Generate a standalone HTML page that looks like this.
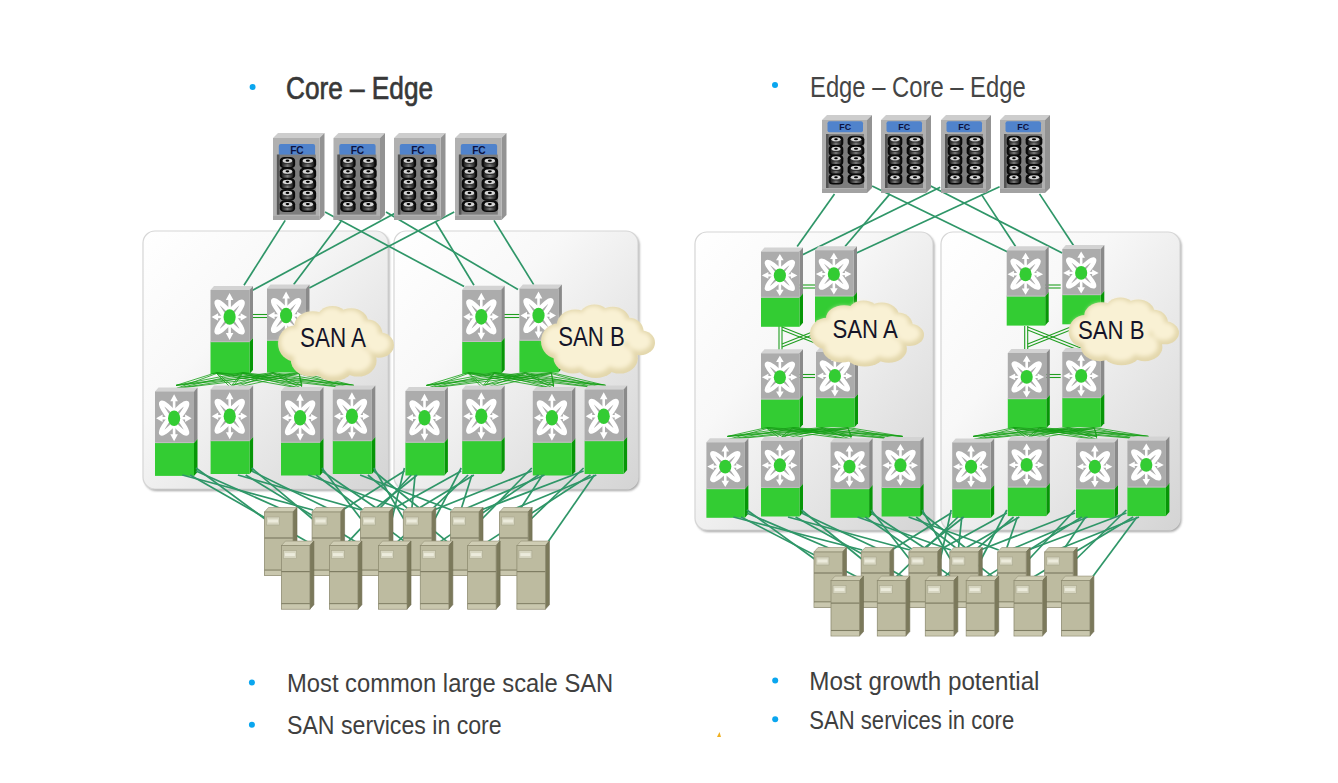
<!DOCTYPE html><html><head><meta charset="utf-8"><style>html,body{margin:0;padding:0;background:#fff;}svg{display:block}</style></head><body>
<svg width="1338" height="783" viewBox="0 0 1338 783">
<defs>
<linearGradient id="pg" x1="0" y1="0" x2="1" y2="1">
<stop offset="0" stop-color="#ffffff"/><stop offset="0.35" stop-color="#f8f8f8"/><stop offset="1" stop-color="#d4d4d4"/></linearGradient>
<radialGradient id="cg" cx="0.42" cy="0.38" r="0.65">
<stop offset="0" stop-color="#fbf6df"/><stop offset="0.6" stop-color="#f3ebcb"/><stop offset="1" stop-color="#ddd1a4"/></radialGradient>
<filter id="blur2" x="-10%" y="-10%" width="120%" height="120%"><feGaussianBlur stdDeviation="1.0"/></filter>
<filter id="blur3" x="-20%" y="-20%" width="140%" height="140%"><feGaussianBlur stdDeviation="2.2"/></filter>
<g id="star">
<ellipse cx="0" cy="0" rx="3.6" ry="19.8" transform="rotate(40)" fill="none" stroke="#fff" stroke-width="4.5"/>
<ellipse cx="0" cy="0" rx="3.6" ry="19.8" transform="rotate(-40)" fill="none" stroke="#fff" stroke-width="4.5"/>
<path d="M0,-18 V18 M-13,0 H13" stroke="#fff" stroke-width="2.6"/>
<path d="M0,-24 L-3.8,-17 L3.8,-17 Z M0,23 L-3.8,16 L3.8,16 Z M-18,0 L-11.5,-3.8 L-11.5,3.8 Z M17.5,0 L11,-3.8 L11,3.8 Z" fill="#fff"/>
<ellipse cx="0" cy="0" rx="6.1" ry="7.8" fill="#33cc33"/>
</g>
<g id="drive">
<rect x="-0.3" y="-0.2" width="14.6" height="10.6" rx="4.5" ry="3.5" fill="#0a0a0a"/>
<rect x="1.5" y="3" width="11" height="6" rx="2" fill="url(#dg)"/>
<rect x="3" y="5.6" width="8" height="0.9" fill="#2a2a2a"/>
<ellipse cx="7" cy="3.3" rx="4.6" ry="2.0" fill="#d4d4d4"/>
<ellipse cx="7" cy="3.2" rx="1.8" ry="1.0" fill="#000"/>
</g>
<linearGradient id="dg" x1="0" y1="0" x2="1" y2="0"><stop offset="0" stop-color="#1a1a1a"/><stop offset="0.5" stop-color="#7a7a7a"/><stop offset="1" stop-color="#1a1a1a"/></linearGradient>
</defs>
<circle cx="252.6" cy="87" r="3.0" fill="#0aa6ef"/>
<text x="286" y="98.5" font-family="Liberation Sans" font-size="32" font-weight="normal" fill="#383838" stroke="#383838" stroke-width="0.7" textLength="147" lengthAdjust="spacingAndGlyphs">Core – Edge</text>
<circle cx="775" cy="85.1" r="3.0" fill="#0aa6ef"/>
<text x="810" y="97.2" font-family="Liberation Sans" font-size="30" font-weight="normal" fill="#454545"  textLength="215.70000000000005" lengthAdjust="spacingAndGlyphs">Edge – Core – Edge</text>
<circle cx="251.9" cy="682.4" r="3.0" fill="#0aa6ef"/>
<text x="287" y="692" font-family="Liberation Sans" font-size="25" font-weight="normal" fill="#3f3f3f"  textLength="326.29999999999995" lengthAdjust="spacingAndGlyphs">Most common large scale SAN</text>
<circle cx="251.9" cy="724.7" r="3.0" fill="#0aa6ef"/>
<text x="287" y="734.3" font-family="Liberation Sans" font-size="25" font-weight="normal" fill="#3f3f3f"  textLength="214.7" lengthAdjust="spacingAndGlyphs">SAN services in core</text>
<circle cx="775.2" cy="680.4" r="3.0" fill="#0aa6ef"/>
<text x="809.3" y="690" font-family="Liberation Sans" font-size="25" font-weight="normal" fill="#3f3f3f"  textLength="230.20000000000005" lengthAdjust="spacingAndGlyphs">Most growth potential</text>
<circle cx="775.2" cy="719.2" r="3.0" fill="#0aa6ef"/>
<text x="809.3" y="729" font-family="Liberation Sans" font-size="25" font-weight="normal" fill="#3f3f3f"  textLength="204.9000000000001" lengthAdjust="spacingAndGlyphs">SAN services in core</text>
<polygon points="717,737 719.5,732 721,737" fill="#f0b020"/>
<rect x="144.5" y="233" width="245" height="258" rx="12" fill="#8a8a8a" opacity="0.75" filter="url(#blur2)"/><rect x="143" y="231" width="245" height="258" rx="12" fill="url(#pg)" stroke="#d6d6d6" stroke-width="1.2"/>
<rect x="395.5" y="233" width="244" height="258" rx="12" fill="#8a8a8a" opacity="0.75" filter="url(#blur2)"/><rect x="394" y="231" width="244" height="258" rx="12" fill="url(#pg)" stroke="#d6d6d6" stroke-width="1.2"/>
<line x1="285.2" y1="220.4" x2="244.0" y2="285.2" stroke="#2f9668" stroke-width="1.7"/>
<line x1="341.2" y1="221.3" x2="293.7" y2="284.6" stroke="#2f9668" stroke-width="1.7"/>
<line x1="325.0" y1="212.0" x2="464.1" y2="286.6" stroke="#2f9668" stroke-width="1.7"/>
<line x1="386.0" y1="212.0" x2="518.0" y2="289.5" stroke="#2f9668" stroke-width="1.7"/>
<line x1="394.5" y1="213.6" x2="252.5" y2="290.3" stroke="#2f9668" stroke-width="1.7"/>
<line x1="454.2" y1="212.0" x2="309.3" y2="288.0" stroke="#2f9668" stroke-width="1.7"/>
<line x1="435.2" y1="221.3" x2="474.0" y2="285.2" stroke="#2f9668" stroke-width="1.7"/>
<line x1="494.0" y1="220.4" x2="533.7" y2="284.6" stroke="#2f9668" stroke-width="1.7"/>
<polygon points="273,138 278,133 324.5,133 319.5,138" fill="#cdcdcd"/>
<polygon points="319.5,138 324.5,133 324.5,215 319.5,220" fill="#939393"/>
<rect x="273" y="138" width="46.5" height="82" fill="#b0b0b0"/>
<rect x="273" y="216" width="46.5" height="4" fill="#a2a2a2"/>
<rect x="278.8" y="144.1" width="36.300000000000004" height="12.4" rx="2" fill="#5083cc"/>
<text x="296.95" y="153.9" text-anchor="middle" font-family="Liberation Sans" font-weight="bold" font-size="10.2" fill="#0c1240">FC</text>
<rect x="276.9" y="154.6" width="38.9" height="59.99999999999999" fill="#7d7d7d"/>
<rect x="276.9" y="154.6" width="2.5" height="59.99999999999999" fill="#555"/>
<use href="#drive" transform="translate(280.1,157.2) scale(1.050,1.080)"/>
<use href="#drive" transform="translate(280.1,167.8) scale(1.050,1.100)"/>
<use href="#drive" transform="translate(280.1,178.4) scale(1.050,1.080)"/>
<use href="#drive" transform="translate(280.1,189.4) scale(1.050,1.100)"/>
<use href="#drive" transform="translate(280.1,200.6) scale(1.050,1.100)"/>
<use href="#drive" transform="translate(299.9,157.2) scale(1.136,1.080)"/>
<use href="#drive" transform="translate(299.9,167.8) scale(1.136,1.100)"/>
<use href="#drive" transform="translate(299.9,178.4) scale(1.136,1.080)"/>
<use href="#drive" transform="translate(299.9,189.4) scale(1.136,1.100)"/>
<use href="#drive" transform="translate(299.9,200.6) scale(1.136,1.100)"/>
<polygon points="333.5,138 338.5,133 385.0,133 380.0,138" fill="#cdcdcd"/>
<polygon points="380.0,138 385.0,133 385.0,215 380.0,220" fill="#939393"/>
<rect x="333.5" y="138" width="46.5" height="82" fill="#b0b0b0"/>
<rect x="333.5" y="216" width="46.5" height="4" fill="#a2a2a2"/>
<rect x="339.3" y="144.1" width="36.300000000000004" height="12.4" rx="2" fill="#5083cc"/>
<text x="357.45" y="153.9" text-anchor="middle" font-family="Liberation Sans" font-weight="bold" font-size="10.2" fill="#0c1240">FC</text>
<rect x="337.4" y="154.6" width="38.9" height="59.99999999999999" fill="#7d7d7d"/>
<rect x="337.4" y="154.6" width="2.5" height="59.99999999999999" fill="#555"/>
<use href="#drive" transform="translate(340.6,157.2) scale(1.050,1.080)"/>
<use href="#drive" transform="translate(340.6,167.8) scale(1.050,1.100)"/>
<use href="#drive" transform="translate(340.6,178.4) scale(1.050,1.080)"/>
<use href="#drive" transform="translate(340.6,189.4) scale(1.050,1.100)"/>
<use href="#drive" transform="translate(340.6,200.6) scale(1.050,1.100)"/>
<use href="#drive" transform="translate(360.4,157.2) scale(1.136,1.080)"/>
<use href="#drive" transform="translate(360.4,167.8) scale(1.136,1.100)"/>
<use href="#drive" transform="translate(360.4,178.4) scale(1.136,1.080)"/>
<use href="#drive" transform="translate(360.4,189.4) scale(1.136,1.100)"/>
<use href="#drive" transform="translate(360.4,200.6) scale(1.136,1.100)"/>
<polygon points="394,138 399,133 445.5,133 440.5,138" fill="#cdcdcd"/>
<polygon points="440.5,138 445.5,133 445.5,215 440.5,220" fill="#939393"/>
<rect x="394" y="138" width="46.5" height="82" fill="#b0b0b0"/>
<rect x="394" y="216" width="46.5" height="4" fill="#a2a2a2"/>
<rect x="399.8" y="144.1" width="36.300000000000004" height="12.4" rx="2" fill="#5083cc"/>
<text x="417.95" y="153.9" text-anchor="middle" font-family="Liberation Sans" font-weight="bold" font-size="10.2" fill="#0c1240">FC</text>
<rect x="397.9" y="154.6" width="38.9" height="59.99999999999999" fill="#7d7d7d"/>
<rect x="397.9" y="154.6" width="2.5" height="59.99999999999999" fill="#555"/>
<use href="#drive" transform="translate(401.1,157.2) scale(1.050,1.080)"/>
<use href="#drive" transform="translate(401.1,167.8) scale(1.050,1.100)"/>
<use href="#drive" transform="translate(401.1,178.4) scale(1.050,1.080)"/>
<use href="#drive" transform="translate(401.1,189.4) scale(1.050,1.100)"/>
<use href="#drive" transform="translate(401.1,200.6) scale(1.050,1.100)"/>
<use href="#drive" transform="translate(420.9,157.2) scale(1.136,1.080)"/>
<use href="#drive" transform="translate(420.9,167.8) scale(1.136,1.100)"/>
<use href="#drive" transform="translate(420.9,178.4) scale(1.136,1.080)"/>
<use href="#drive" transform="translate(420.9,189.4) scale(1.136,1.100)"/>
<use href="#drive" transform="translate(420.9,200.6) scale(1.136,1.100)"/>
<polygon points="455,138 460,133 506.5,133 501.5,138" fill="#cdcdcd"/>
<polygon points="501.5,138 506.5,133 506.5,215 501.5,220" fill="#939393"/>
<rect x="455" y="138" width="46.5" height="82" fill="#b0b0b0"/>
<rect x="455" y="216" width="46.5" height="4" fill="#a2a2a2"/>
<rect x="460.8" y="144.1" width="36.300000000000004" height="12.4" rx="2" fill="#5083cc"/>
<text x="478.95" y="153.9" text-anchor="middle" font-family="Liberation Sans" font-weight="bold" font-size="10.2" fill="#0c1240">FC</text>
<rect x="458.9" y="154.6" width="38.9" height="59.99999999999999" fill="#7d7d7d"/>
<rect x="458.9" y="154.6" width="2.5" height="59.99999999999999" fill="#555"/>
<use href="#drive" transform="translate(462.1,157.2) scale(1.050,1.080)"/>
<use href="#drive" transform="translate(462.1,167.8) scale(1.050,1.100)"/>
<use href="#drive" transform="translate(462.1,178.4) scale(1.050,1.080)"/>
<use href="#drive" transform="translate(462.1,189.4) scale(1.050,1.100)"/>
<use href="#drive" transform="translate(462.1,200.6) scale(1.050,1.100)"/>
<use href="#drive" transform="translate(481.9,157.2) scale(1.136,1.080)"/>
<use href="#drive" transform="translate(481.9,167.8) scale(1.136,1.100)"/>
<use href="#drive" transform="translate(481.9,178.4) scale(1.136,1.080)"/>
<use href="#drive" transform="translate(481.9,189.4) scale(1.136,1.100)"/>
<use href="#drive" transform="translate(481.9,200.6) scale(1.136,1.100)"/>
<line x1="252.0" y1="314.5" x2="267.0" y2="314.5" stroke="#1f9e1f" stroke-width="1.1"/>
<line x1="252.0" y1="317.5" x2="267.0" y2="317.5" stroke="#1f9e1f" stroke-width="1.1"/>
<line x1="504.0" y1="314.5" x2="519.4" y2="314.5" stroke="#1f9e1f" stroke-width="1.1"/>
<line x1="504.0" y1="317.5" x2="519.4" y2="317.5" stroke="#1f9e1f" stroke-width="1.1"/>
<polygon points="210.5,290 214.0,286 253.0,286 249.5,290" fill="#d3d3d3"/>
<polygon points="249.5,290 253.0,286 253.0,338 249.5,342" fill="#8a8a8a"/>
<polygon points="249.5,342 253.0,338 253.0,370 249.5,374" fill="#079607"/>
<rect x="210.5" y="290" width="39" height="52" fill="#acacac"/>
<rect x="210.5" y="342" width="39" height="32" fill="#33cc33"/>
<rect x="210.5" y="341.2" width="39" height="1" fill="#c4bcc4"/>
<use href="#star" transform="translate(229.61,317.04) scale(1.0,1.0)"/>
<polygon points="267,288.5 270.5,284.5 309.5,284.5 306,288.5" fill="#d3d3d3"/>
<polygon points="306,288.5 309.5,284.5 309.5,336.5 306,340.5" fill="#8a8a8a"/>
<polygon points="306,340.5 309.5,336.5 309.5,368.5 306,372.5" fill="#079607"/>
<rect x="267" y="288.5" width="39" height="52" fill="#acacac"/>
<rect x="267" y="340.5" width="39" height="32" fill="#33cc33"/>
<rect x="267" y="339.7" width="39" height="1" fill="#c4bcc4"/>
<use href="#star" transform="translate(286.11,315.54) scale(1.0,1.0)"/>
<polygon points="462.2,289.8 465.7,285.8 504.7,285.8 501.2,289.8" fill="#d3d3d3"/>
<polygon points="501.2,289.8 504.7,285.8 504.7,337.8 501.2,341.8" fill="#8a8a8a"/>
<polygon points="501.2,341.8 504.7,337.8 504.7,369.8 501.2,373.8" fill="#079607"/>
<rect x="462.2" y="289.8" width="39" height="52" fill="#acacac"/>
<rect x="462.2" y="341.8" width="39" height="32" fill="#33cc33"/>
<rect x="462.2" y="341.0" width="39" height="1" fill="#c4bcc4"/>
<use href="#star" transform="translate(481.31,316.84000000000003) scale(1.0,1.0)"/>
<polygon points="519.4,288.5 522.9,284.5 561.9,284.5 558.4,288.5" fill="#d3d3d3"/>
<polygon points="558.4,288.5 561.9,284.5 561.9,336.5 558.4,340.5" fill="#8a8a8a"/>
<polygon points="558.4,340.5 561.9,336.5 561.9,368.5 558.4,372.5" fill="#079607"/>
<rect x="519.4" y="288.5" width="39" height="52" fill="#acacac"/>
<rect x="519.4" y="340.5" width="39" height="32" fill="#33cc33"/>
<rect x="519.4" y="339.7" width="39" height="1" fill="#c4bcc4"/>
<use href="#star" transform="translate(538.51,315.54) scale(1.0,1.0)"/>
<line x1="216.5" y1="372.5" x2="176.0" y2="385.4" stroke="#14a014" stroke-width="0.8"/>
<line x1="216.5" y1="373.5" x2="176.0" y2="388.6" stroke="#14a014" stroke-width="0.8"/>
<line x1="216.5" y1="372.5" x2="231.6" y2="385.4" stroke="#14a014" stroke-width="0.8"/>
<line x1="216.5" y1="373.5" x2="231.6" y2="388.6" stroke="#14a014" stroke-width="0.8"/>
<line x1="216.5" y1="372.5" x2="302.0" y2="385.4" stroke="#14a014" stroke-width="0.8"/>
<line x1="216.5" y1="373.5" x2="302.0" y2="388.6" stroke="#14a014" stroke-width="0.8"/>
<line x1="216.5" y1="372.5" x2="353.8" y2="385.4" stroke="#14a014" stroke-width="0.8"/>
<line x1="216.5" y1="373.5" x2="353.8" y2="388.6" stroke="#14a014" stroke-width="0.8"/>
<line x1="242.5" y1="372.5" x2="176.0" y2="385.4" stroke="#14a014" stroke-width="0.8"/>
<line x1="242.5" y1="373.5" x2="176.0" y2="388.6" stroke="#14a014" stroke-width="0.8"/>
<line x1="242.5" y1="372.5" x2="231.6" y2="385.4" stroke="#14a014" stroke-width="0.8"/>
<line x1="242.5" y1="373.5" x2="231.6" y2="388.6" stroke="#14a014" stroke-width="0.8"/>
<line x1="242.5" y1="372.5" x2="302.0" y2="385.4" stroke="#14a014" stroke-width="0.8"/>
<line x1="242.5" y1="373.5" x2="302.0" y2="388.6" stroke="#14a014" stroke-width="0.8"/>
<line x1="242.5" y1="372.5" x2="353.8" y2="385.4" stroke="#14a014" stroke-width="0.8"/>
<line x1="242.5" y1="373.5" x2="353.8" y2="388.6" stroke="#14a014" stroke-width="0.8"/>
<line x1="273.0" y1="372.5" x2="176.0" y2="385.4" stroke="#14a014" stroke-width="0.8"/>
<line x1="273.0" y1="373.5" x2="176.0" y2="388.6" stroke="#14a014" stroke-width="0.8"/>
<line x1="273.0" y1="372.5" x2="231.6" y2="385.4" stroke="#14a014" stroke-width="0.8"/>
<line x1="273.0" y1="373.5" x2="231.6" y2="388.6" stroke="#14a014" stroke-width="0.8"/>
<line x1="273.0" y1="372.5" x2="302.0" y2="385.4" stroke="#14a014" stroke-width="0.8"/>
<line x1="273.0" y1="373.5" x2="302.0" y2="388.6" stroke="#14a014" stroke-width="0.8"/>
<line x1="273.0" y1="372.5" x2="353.8" y2="385.4" stroke="#14a014" stroke-width="0.8"/>
<line x1="273.0" y1="373.5" x2="353.8" y2="388.6" stroke="#14a014" stroke-width="0.8"/>
<line x1="299.0" y1="372.5" x2="176.0" y2="385.4" stroke="#14a014" stroke-width="0.8"/>
<line x1="299.0" y1="373.5" x2="176.0" y2="388.6" stroke="#14a014" stroke-width="0.8"/>
<line x1="299.0" y1="372.5" x2="231.6" y2="385.4" stroke="#14a014" stroke-width="0.8"/>
<line x1="299.0" y1="373.5" x2="231.6" y2="388.6" stroke="#14a014" stroke-width="0.8"/>
<line x1="299.0" y1="372.5" x2="302.0" y2="385.4" stroke="#14a014" stroke-width="0.8"/>
<line x1="299.0" y1="373.5" x2="302.0" y2="388.6" stroke="#14a014" stroke-width="0.8"/>
<line x1="299.0" y1="372.5" x2="353.8" y2="385.4" stroke="#14a014" stroke-width="0.8"/>
<line x1="299.0" y1="373.5" x2="353.8" y2="388.6" stroke="#14a014" stroke-width="0.8"/>
<line x1="468.2" y1="372.5" x2="426.4" y2="385.4" stroke="#14a014" stroke-width="0.8"/>
<line x1="468.2" y1="373.5" x2="426.4" y2="388.6" stroke="#14a014" stroke-width="0.8"/>
<line x1="468.2" y1="372.5" x2="483.2" y2="385.4" stroke="#14a014" stroke-width="0.8"/>
<line x1="468.2" y1="373.5" x2="483.2" y2="388.6" stroke="#14a014" stroke-width="0.8"/>
<line x1="468.2" y1="372.5" x2="553.8" y2="385.4" stroke="#14a014" stroke-width="0.8"/>
<line x1="468.2" y1="373.5" x2="553.8" y2="388.6" stroke="#14a014" stroke-width="0.8"/>
<line x1="468.2" y1="372.5" x2="605.6" y2="385.4" stroke="#14a014" stroke-width="0.8"/>
<line x1="468.2" y1="373.5" x2="605.6" y2="388.6" stroke="#14a014" stroke-width="0.8"/>
<line x1="494.2" y1="372.5" x2="426.4" y2="385.4" stroke="#14a014" stroke-width="0.8"/>
<line x1="494.2" y1="373.5" x2="426.4" y2="388.6" stroke="#14a014" stroke-width="0.8"/>
<line x1="494.2" y1="372.5" x2="483.2" y2="385.4" stroke="#14a014" stroke-width="0.8"/>
<line x1="494.2" y1="373.5" x2="483.2" y2="388.6" stroke="#14a014" stroke-width="0.8"/>
<line x1="494.2" y1="372.5" x2="553.8" y2="385.4" stroke="#14a014" stroke-width="0.8"/>
<line x1="494.2" y1="373.5" x2="553.8" y2="388.6" stroke="#14a014" stroke-width="0.8"/>
<line x1="494.2" y1="372.5" x2="605.6" y2="385.4" stroke="#14a014" stroke-width="0.8"/>
<line x1="494.2" y1="373.5" x2="605.6" y2="388.6" stroke="#14a014" stroke-width="0.8"/>
<line x1="525.4" y1="372.5" x2="426.4" y2="385.4" stroke="#14a014" stroke-width="0.8"/>
<line x1="525.4" y1="373.5" x2="426.4" y2="388.6" stroke="#14a014" stroke-width="0.8"/>
<line x1="525.4" y1="372.5" x2="483.2" y2="385.4" stroke="#14a014" stroke-width="0.8"/>
<line x1="525.4" y1="373.5" x2="483.2" y2="388.6" stroke="#14a014" stroke-width="0.8"/>
<line x1="525.4" y1="372.5" x2="553.8" y2="385.4" stroke="#14a014" stroke-width="0.8"/>
<line x1="525.4" y1="373.5" x2="553.8" y2="388.6" stroke="#14a014" stroke-width="0.8"/>
<line x1="525.4" y1="372.5" x2="605.6" y2="385.4" stroke="#14a014" stroke-width="0.8"/>
<line x1="525.4" y1="373.5" x2="605.6" y2="388.6" stroke="#14a014" stroke-width="0.8"/>
<line x1="551.4" y1="372.5" x2="426.4" y2="385.4" stroke="#14a014" stroke-width="0.8"/>
<line x1="551.4" y1="373.5" x2="426.4" y2="388.6" stroke="#14a014" stroke-width="0.8"/>
<line x1="551.4" y1="372.5" x2="483.2" y2="385.4" stroke="#14a014" stroke-width="0.8"/>
<line x1="551.4" y1="373.5" x2="483.2" y2="388.6" stroke="#14a014" stroke-width="0.8"/>
<line x1="551.4" y1="372.5" x2="553.8" y2="385.4" stroke="#14a014" stroke-width="0.8"/>
<line x1="551.4" y1="373.5" x2="553.8" y2="388.6" stroke="#14a014" stroke-width="0.8"/>
<line x1="551.4" y1="372.5" x2="605.6" y2="385.4" stroke="#14a014" stroke-width="0.8"/>
<line x1="551.4" y1="373.5" x2="605.6" y2="388.6" stroke="#14a014" stroke-width="0.8"/>
<polygon points="155,391.4 158.5,387.4 197.5,387.4 194,391.4" fill="#d3d3d3"/>
<polygon points="194,391.4 197.5,387.4 197.5,438.9 194,442.9" fill="#8a8a8a"/>
<polygon points="194,442.9 197.5,438.9 197.5,471.9 194,475.9" fill="#079607"/>
<rect x="155" y="391.4" width="39" height="51.5" fill="#acacac"/>
<rect x="155" y="442.9" width="39" height="33.0" fill="#33cc33"/>
<rect x="155" y="442.09999999999997" width="39" height="1" fill="#c4bcc4"/>
<use href="#star" transform="translate(174.11,418.17999999999995) scale(1.0,1.0)"/>
<polygon points="210.6,389.5 214.1,385.5 253.1,385.5 249.6,389.5" fill="#d3d3d3"/>
<polygon points="249.6,389.5 253.1,385.5 253.1,437.0 249.6,441.0" fill="#8a8a8a"/>
<polygon points="249.6,441.0 253.1,437.0 253.1,470.0 249.6,474.0" fill="#079607"/>
<rect x="210.6" y="389.5" width="39" height="51.5" fill="#acacac"/>
<rect x="210.6" y="441.0" width="39" height="33.0" fill="#33cc33"/>
<rect x="210.6" y="440.2" width="39" height="1" fill="#c4bcc4"/>
<use href="#star" transform="translate(229.70999999999998,416.28) scale(1.0,1.0)"/>
<polygon points="281,391 284.5,387 323.5,387 320,391" fill="#d3d3d3"/>
<polygon points="320,391 323.5,387 323.5,438.5 320,442.5" fill="#8a8a8a"/>
<polygon points="320,442.5 323.5,438.5 323.5,471.5 320,475.5" fill="#079607"/>
<rect x="281" y="391" width="39" height="51.5" fill="#acacac"/>
<rect x="281" y="442.5" width="39" height="33.0" fill="#33cc33"/>
<rect x="281" y="441.7" width="39" height="1" fill="#c4bcc4"/>
<use href="#star" transform="translate(300.11,417.78) scale(1.0,1.0)"/>
<polygon points="332.8,389.5 336.3,385.5 375.3,385.5 371.8,389.5" fill="#d3d3d3"/>
<polygon points="371.8,389.5 375.3,385.5 375.3,437.0 371.8,441.0" fill="#8a8a8a"/>
<polygon points="371.8,441.0 375.3,437.0 375.3,470.0 371.8,474.0" fill="#079607"/>
<rect x="332.8" y="389.5" width="39" height="51.5" fill="#acacac"/>
<rect x="332.8" y="441.0" width="39" height="33.0" fill="#33cc33"/>
<rect x="332.8" y="440.2" width="39" height="1" fill="#c4bcc4"/>
<use href="#star" transform="translate(351.91,416.28) scale(1.0,1.0)"/>
<polygon points="405.4,391 408.9,387 447.9,387 444.4,391" fill="#d3d3d3"/>
<polygon points="444.4,391 447.9,387 447.9,438.5 444.4,442.5" fill="#8a8a8a"/>
<polygon points="444.4,442.5 447.9,438.5 447.9,471.5 444.4,475.5" fill="#079607"/>
<rect x="405.4" y="391" width="39" height="51.5" fill="#acacac"/>
<rect x="405.4" y="442.5" width="39" height="33.0" fill="#33cc33"/>
<rect x="405.4" y="441.7" width="39" height="1" fill="#c4bcc4"/>
<use href="#star" transform="translate(424.51,417.78) scale(1.0,1.0)"/>
<polygon points="462.2,389.5 465.7,385.5 504.7,385.5 501.2,389.5" fill="#d3d3d3"/>
<polygon points="501.2,389.5 504.7,385.5 504.7,437.0 501.2,441.0" fill="#8a8a8a"/>
<polygon points="501.2,441.0 504.7,437.0 504.7,470.0 501.2,474.0" fill="#079607"/>
<rect x="462.2" y="389.5" width="39" height="51.5" fill="#acacac"/>
<rect x="462.2" y="441.0" width="39" height="33.0" fill="#33cc33"/>
<rect x="462.2" y="440.2" width="39" height="1" fill="#c4bcc4"/>
<use href="#star" transform="translate(481.31,416.28) scale(1.0,1.0)"/>
<polygon points="532.8,391 536.3,387 575.3,387 571.8,391" fill="#d3d3d3"/>
<polygon points="571.8,391 575.3,387 575.3,438.5 571.8,442.5" fill="#8a8a8a"/>
<polygon points="571.8,442.5 575.3,438.5 575.3,471.5 571.8,475.5" fill="#079607"/>
<rect x="532.8" y="391" width="39" height="51.5" fill="#acacac"/>
<rect x="532.8" y="442.5" width="39" height="33.0" fill="#33cc33"/>
<rect x="532.8" y="441.7" width="39" height="1" fill="#c4bcc4"/>
<use href="#star" transform="translate(551.91,417.78) scale(1.0,1.0)"/>
<polygon points="584.6,389.5 588.1,385.5 627.1,385.5 623.6,389.5" fill="#d3d3d3"/>
<polygon points="623.6,389.5 627.1,385.5 627.1,437.0 623.6,441.0" fill="#8a8a8a"/>
<polygon points="623.6,441.0 627.1,437.0 627.1,470.0 623.6,474.0" fill="#079607"/>
<rect x="584.6" y="389.5" width="39" height="51.5" fill="#acacac"/>
<rect x="584.6" y="441.0" width="39" height="33.0" fill="#33cc33"/>
<rect x="584.6" y="440.2" width="39" height="1" fill="#c4bcc4"/>
<use href="#star" transform="translate(603.71,416.28) scale(1.0,1.0)"/>
<line x1="196.0" y1="468.0" x2="265.0" y2="519.0" stroke="#2f9668" stroke-width="1.7"/>
<line x1="196.0" y1="471.0" x2="281.6" y2="509.0" stroke="#2f9668" stroke-width="1.7"/>
<line x1="182.3" y1="475.0" x2="313.1" y2="510.0" stroke="#2f9668" stroke-width="1.7"/>
<line x1="190.1" y1="475.0" x2="310.4" y2="543.6" stroke="#2f9668" stroke-width="1.7"/>
<line x1="404.4" y1="468.0" x2="392.0" y2="519.0" stroke="#2f9668" stroke-width="1.7"/>
<line x1="404.4" y1="471.0" x2="342.6" y2="510.0" stroke="#2f9668" stroke-width="1.7"/>
<line x1="417.1" y1="475.0" x2="374.8" y2="509.0" stroke="#2f9668" stroke-width="1.7"/>
<line x1="411.2" y1="475.0" x2="346.5" y2="543.6" stroke="#2f9668" stroke-width="1.7"/>
<line x1="415.1" y1="475.0" x2="408.5" y2="543.6" stroke="#2f9668" stroke-width="1.7"/>
<line x1="251.6" y1="468.0" x2="312.6" y2="519.0" stroke="#2f9668" stroke-width="1.7"/>
<line x1="251.6" y1="471.0" x2="329.2" y2="509.0" stroke="#2f9668" stroke-width="1.7"/>
<line x1="237.9" y1="475.0" x2="361.5" y2="510.0" stroke="#2f9668" stroke-width="1.7"/>
<line x1="245.7" y1="475.0" x2="358.4" y2="543.6" stroke="#2f9668" stroke-width="1.7"/>
<line x1="461.2" y1="468.0" x2="434.8" y2="519.0" stroke="#2f9668" stroke-width="1.7"/>
<line x1="461.2" y1="471.0" x2="391.0" y2="510.0" stroke="#2f9668" stroke-width="1.7"/>
<line x1="473.9" y1="475.0" x2="417.6" y2="509.0" stroke="#2f9668" stroke-width="1.7"/>
<line x1="468.1" y1="475.0" x2="395.6" y2="543.6" stroke="#2f9668" stroke-width="1.7"/>
<line x1="471.9" y1="475.0" x2="450.3" y2="543.6" stroke="#2f9668" stroke-width="1.7"/>
<line x1="322.0" y1="468.0" x2="361.0" y2="519.0" stroke="#2f9668" stroke-width="1.7"/>
<line x1="322.0" y1="471.0" x2="377.6" y2="509.0" stroke="#2f9668" stroke-width="1.7"/>
<line x1="308.3" y1="475.0" x2="404.3" y2="510.0" stroke="#2f9668" stroke-width="1.7"/>
<line x1="316.1" y1="475.0" x2="407.5" y2="543.6" stroke="#2f9668" stroke-width="1.7"/>
<line x1="531.8" y1="468.0" x2="482.0" y2="519.0" stroke="#2f9668" stroke-width="1.7"/>
<line x1="531.8" y1="471.0" x2="433.8" y2="510.0" stroke="#2f9668" stroke-width="1.7"/>
<line x1="544.5" y1="475.0" x2="464.8" y2="509.0" stroke="#2f9668" stroke-width="1.7"/>
<line x1="538.6" y1="475.0" x2="437.4" y2="543.6" stroke="#2f9668" stroke-width="1.7"/>
<line x1="542.5" y1="475.0" x2="497.6" y2="543.6" stroke="#2f9668" stroke-width="1.7"/>
<line x1="373.8" y1="468.0" x2="403.8" y2="519.0" stroke="#2f9668" stroke-width="1.7"/>
<line x1="373.8" y1="471.0" x2="420.4" y2="509.0" stroke="#2f9668" stroke-width="1.7"/>
<line x1="360.1" y1="475.0" x2="451.5" y2="510.0" stroke="#2f9668" stroke-width="1.7"/>
<line x1="367.9" y1="475.0" x2="449.3" y2="543.6" stroke="#2f9668" stroke-width="1.7"/>
<line x1="583.6" y1="468.0" x2="531.1" y2="519.0" stroke="#2f9668" stroke-width="1.7"/>
<line x1="583.6" y1="471.0" x2="481.0" y2="510.0" stroke="#2f9668" stroke-width="1.7"/>
<line x1="596.3" y1="475.0" x2="513.9" y2="509.0" stroke="#2f9668" stroke-width="1.7"/>
<line x1="590.5" y1="475.0" x2="484.7" y2="543.6" stroke="#2f9668" stroke-width="1.7"/>
<line x1="594.4" y1="475.0" x2="546.9" y2="543.6" stroke="#2f9668" stroke-width="1.7"/>
<polygon points="264.5,512 268.5,507.5 297.0,507.5 293.0,512" fill="#cfcdb4" stroke="#9c9a80" stroke-width="0.7"/>
<polygon points="293.0,512 297.0,507.5 297.0,571.1 293.0,575.6" fill="#7b795b" stroke="#6e6c50" stroke-width="0.6"/>
<rect x="264.5" y="512" width="28.5" height="63.6" fill="#bdbba0" stroke="#8f8d72" stroke-width="0.8"/>
<rect x="266.5" y="517" width="13" height="8" fill="#d6d5c0" stroke="#a9a78e" stroke-width="0.6"/>
<rect x="268.0" y="519.5" width="10" height="3" fill="#ecebdc"/>
<line x1="264.5" y1="538" x2="293.0" y2="538" stroke="#7f7d63" stroke-width="1.2"/>
<line x1="264.5" y1="570.1" x2="293.0" y2="570.1" stroke="#7f7d63" stroke-width="1.1"/>
<rect x="265.0" y="570.8000000000001" width="27.5" height="4.3" fill="#c9c7ae"/>
<polygon points="312.1,512 316.1,507.5 344.6,507.5 340.6,512" fill="#cfcdb4" stroke="#9c9a80" stroke-width="0.7"/>
<polygon points="340.6,512 344.6,507.5 344.6,571.1 340.6,575.6" fill="#7b795b" stroke="#6e6c50" stroke-width="0.6"/>
<rect x="312.1" y="512" width="28.5" height="63.6" fill="#bdbba0" stroke="#8f8d72" stroke-width="0.8"/>
<rect x="314.1" y="517" width="13" height="8" fill="#d6d5c0" stroke="#a9a78e" stroke-width="0.6"/>
<rect x="315.6" y="519.5" width="10" height="3" fill="#ecebdc"/>
<line x1="312.1" y1="538" x2="340.6" y2="538" stroke="#7f7d63" stroke-width="1.2"/>
<line x1="312.1" y1="570.1" x2="340.6" y2="570.1" stroke="#7f7d63" stroke-width="1.1"/>
<rect x="312.6" y="570.8000000000001" width="27.5" height="4.3" fill="#c9c7ae"/>
<polygon points="360.5,512 364.5,507.5 393.0,507.5 389.0,512" fill="#cfcdb4" stroke="#9c9a80" stroke-width="0.7"/>
<polygon points="389.0,512 393.0,507.5 393.0,571.1 389.0,575.6" fill="#7b795b" stroke="#6e6c50" stroke-width="0.6"/>
<rect x="360.5" y="512" width="28.5" height="63.6" fill="#bdbba0" stroke="#8f8d72" stroke-width="0.8"/>
<rect x="362.5" y="517" width="13" height="8" fill="#d6d5c0" stroke="#a9a78e" stroke-width="0.6"/>
<rect x="364.0" y="519.5" width="10" height="3" fill="#ecebdc"/>
<line x1="360.5" y1="538" x2="389.0" y2="538" stroke="#7f7d63" stroke-width="1.2"/>
<line x1="360.5" y1="570.1" x2="389.0" y2="570.1" stroke="#7f7d63" stroke-width="1.1"/>
<rect x="361.0" y="570.8000000000001" width="27.5" height="4.3" fill="#c9c7ae"/>
<polygon points="403.3,512 407.3,507.5 435.8,507.5 431.8,512" fill="#cfcdb4" stroke="#9c9a80" stroke-width="0.7"/>
<polygon points="431.8,512 435.8,507.5 435.8,571.1 431.8,575.6" fill="#7b795b" stroke="#6e6c50" stroke-width="0.6"/>
<rect x="403.3" y="512" width="28.5" height="63.6" fill="#bdbba0" stroke="#8f8d72" stroke-width="0.8"/>
<rect x="405.3" y="517" width="13" height="8" fill="#d6d5c0" stroke="#a9a78e" stroke-width="0.6"/>
<rect x="406.8" y="519.5" width="10" height="3" fill="#ecebdc"/>
<line x1="403.3" y1="538" x2="431.8" y2="538" stroke="#7f7d63" stroke-width="1.2"/>
<line x1="403.3" y1="570.1" x2="431.8" y2="570.1" stroke="#7f7d63" stroke-width="1.1"/>
<rect x="403.8" y="570.8000000000001" width="27.5" height="4.3" fill="#c9c7ae"/>
<polygon points="450.5,512 454.5,507.5 483.0,507.5 479.0,512" fill="#cfcdb4" stroke="#9c9a80" stroke-width="0.7"/>
<polygon points="479.0,512 483.0,507.5 483.0,571.1 479.0,575.6" fill="#7b795b" stroke="#6e6c50" stroke-width="0.6"/>
<rect x="450.5" y="512" width="28.5" height="63.6" fill="#bdbba0" stroke="#8f8d72" stroke-width="0.8"/>
<rect x="452.5" y="517" width="13" height="8" fill="#d6d5c0" stroke="#a9a78e" stroke-width="0.6"/>
<rect x="454.0" y="519.5" width="10" height="3" fill="#ecebdc"/>
<line x1="450.5" y1="538" x2="479.0" y2="538" stroke="#7f7d63" stroke-width="1.2"/>
<line x1="450.5" y1="570.1" x2="479.0" y2="570.1" stroke="#7f7d63" stroke-width="1.1"/>
<rect x="451.0" y="570.8000000000001" width="27.5" height="4.3" fill="#c9c7ae"/>
<polygon points="499.6,512 503.6,507.5 532.1,507.5 528.1,512" fill="#cfcdb4" stroke="#9c9a80" stroke-width="0.7"/>
<polygon points="528.1,512 532.1,507.5 532.1,571.1 528.1,575.6" fill="#7b795b" stroke="#6e6c50" stroke-width="0.6"/>
<rect x="499.6" y="512" width="28.5" height="63.6" fill="#bdbba0" stroke="#8f8d72" stroke-width="0.8"/>
<rect x="501.6" y="517" width="13" height="8" fill="#d6d5c0" stroke="#a9a78e" stroke-width="0.6"/>
<rect x="503.1" y="519.5" width="10" height="3" fill="#ecebdc"/>
<line x1="499.6" y1="538" x2="528.1" y2="538" stroke="#7f7d63" stroke-width="1.2"/>
<line x1="499.6" y1="570.1" x2="528.1" y2="570.1" stroke="#7f7d63" stroke-width="1.1"/>
<rect x="500.1" y="570.8000000000001" width="27.5" height="4.3" fill="#c9c7ae"/>
<polygon points="281.4,545.6 285.4,541.1 313.9,541.1 309.9,545.6" fill="#cfcdb4" stroke="#9c9a80" stroke-width="0.7"/>
<polygon points="309.9,545.6 313.9,541.1 313.9,604.7 309.9,609.2" fill="#7b795b" stroke="#6e6c50" stroke-width="0.6"/>
<rect x="281.4" y="545.6" width="28.5" height="63.6" fill="#bdbba0" stroke="#8f8d72" stroke-width="0.8"/>
<rect x="283.4" y="550.6" width="13" height="8" fill="#d6d5c0" stroke="#a9a78e" stroke-width="0.6"/>
<rect x="284.9" y="553.1" width="10" height="3" fill="#ecebdc"/>
<line x1="281.4" y1="571.6" x2="309.9" y2="571.6" stroke="#7f7d63" stroke-width="1.2"/>
<line x1="281.4" y1="603.7" x2="309.9" y2="603.7" stroke="#7f7d63" stroke-width="1.1"/>
<rect x="281.9" y="604.4000000000001" width="27.5" height="4.3" fill="#c9c7ae"/>
<polygon points="329.4,545.6 333.4,541.1 361.9,541.1 357.9,545.6" fill="#cfcdb4" stroke="#9c9a80" stroke-width="0.7"/>
<polygon points="357.9,545.6 361.9,541.1 361.9,604.7 357.9,609.2" fill="#7b795b" stroke="#6e6c50" stroke-width="0.6"/>
<rect x="329.4" y="545.6" width="28.5" height="63.6" fill="#bdbba0" stroke="#8f8d72" stroke-width="0.8"/>
<rect x="331.4" y="550.6" width="13" height="8" fill="#d6d5c0" stroke="#a9a78e" stroke-width="0.6"/>
<rect x="332.9" y="553.1" width="10" height="3" fill="#ecebdc"/>
<line x1="329.4" y1="571.6" x2="357.9" y2="571.6" stroke="#7f7d63" stroke-width="1.2"/>
<line x1="329.4" y1="603.7" x2="357.9" y2="603.7" stroke="#7f7d63" stroke-width="1.1"/>
<rect x="329.9" y="604.4000000000001" width="27.5" height="4.3" fill="#c9c7ae"/>
<polygon points="378.5,545.6 382.5,541.1 411.0,541.1 407.0,545.6" fill="#cfcdb4" stroke="#9c9a80" stroke-width="0.7"/>
<polygon points="407.0,545.6 411.0,541.1 411.0,604.7 407.0,609.2" fill="#7b795b" stroke="#6e6c50" stroke-width="0.6"/>
<rect x="378.5" y="545.6" width="28.5" height="63.6" fill="#bdbba0" stroke="#8f8d72" stroke-width="0.8"/>
<rect x="380.5" y="550.6" width="13" height="8" fill="#d6d5c0" stroke="#a9a78e" stroke-width="0.6"/>
<rect x="382.0" y="553.1" width="10" height="3" fill="#ecebdc"/>
<line x1="378.5" y1="571.6" x2="407.0" y2="571.6" stroke="#7f7d63" stroke-width="1.2"/>
<line x1="378.5" y1="603.7" x2="407.0" y2="603.7" stroke="#7f7d63" stroke-width="1.1"/>
<rect x="379.0" y="604.4000000000001" width="27.5" height="4.3" fill="#c9c7ae"/>
<polygon points="420.3,545.6 424.3,541.1 452.8,541.1 448.8,545.6" fill="#cfcdb4" stroke="#9c9a80" stroke-width="0.7"/>
<polygon points="448.8,545.6 452.8,541.1 452.8,604.7 448.8,609.2" fill="#7b795b" stroke="#6e6c50" stroke-width="0.6"/>
<rect x="420.3" y="545.6" width="28.5" height="63.6" fill="#bdbba0" stroke="#8f8d72" stroke-width="0.8"/>
<rect x="422.3" y="550.6" width="13" height="8" fill="#d6d5c0" stroke="#a9a78e" stroke-width="0.6"/>
<rect x="423.8" y="553.1" width="10" height="3" fill="#ecebdc"/>
<line x1="420.3" y1="571.6" x2="448.8" y2="571.6" stroke="#7f7d63" stroke-width="1.2"/>
<line x1="420.3" y1="603.7" x2="448.8" y2="603.7" stroke="#7f7d63" stroke-width="1.1"/>
<rect x="420.8" y="604.4000000000001" width="27.5" height="4.3" fill="#c9c7ae"/>
<polygon points="467.6,545.6 471.6,541.1 500.1,541.1 496.1,545.6" fill="#cfcdb4" stroke="#9c9a80" stroke-width="0.7"/>
<polygon points="496.1,545.6 500.1,541.1 500.1,604.7 496.1,609.2" fill="#7b795b" stroke="#6e6c50" stroke-width="0.6"/>
<rect x="467.6" y="545.6" width="28.5" height="63.6" fill="#bdbba0" stroke="#8f8d72" stroke-width="0.8"/>
<rect x="469.6" y="550.6" width="13" height="8" fill="#d6d5c0" stroke="#a9a78e" stroke-width="0.6"/>
<rect x="471.1" y="553.1" width="10" height="3" fill="#ecebdc"/>
<line x1="467.6" y1="571.6" x2="496.1" y2="571.6" stroke="#7f7d63" stroke-width="1.2"/>
<line x1="467.6" y1="603.7" x2="496.1" y2="603.7" stroke="#7f7d63" stroke-width="1.1"/>
<rect x="468.1" y="604.4000000000001" width="27.5" height="4.3" fill="#c9c7ae"/>
<polygon points="516.9,545.6 520.9,541.1 549.4,541.1 545.4,545.6" fill="#cfcdb4" stroke="#9c9a80" stroke-width="0.7"/>
<polygon points="545.4,545.6 549.4,541.1 549.4,604.7 545.4,609.2" fill="#7b795b" stroke="#6e6c50" stroke-width="0.6"/>
<rect x="516.9" y="545.6" width="28.5" height="63.6" fill="#bdbba0" stroke="#8f8d72" stroke-width="0.8"/>
<rect x="518.9" y="550.6" width="13" height="8" fill="#d6d5c0" stroke="#a9a78e" stroke-width="0.6"/>
<rect x="520.4" y="553.1" width="10" height="3" fill="#ecebdc"/>
<line x1="516.9" y1="571.6" x2="545.4" y2="571.6" stroke="#7f7d63" stroke-width="1.2"/>
<line x1="516.9" y1="603.7" x2="545.4" y2="603.7" stroke="#7f7d63" stroke-width="1.1"/>
<rect x="517.4" y="604.4000000000001" width="27.5" height="4.3" fill="#c9c7ae"/>
<g>
<ellipse cx="295.4" cy="343.5" rx="17.4" ry="18.0" fill="#e3d7ac"/>
<ellipse cx="312.8" cy="326.2" rx="18.6" ry="15.0" fill="#e3d7ac"/>
<ellipse cx="332.5" cy="320.2" rx="16.2" ry="14.2" fill="#e3d7ac"/>
<ellipse cx="351.1" cy="323.2" rx="17.4" ry="15.0" fill="#e3d7ac"/>
<ellipse cx="367.3" cy="333.8" rx="15.1" ry="14.2" fill="#e3d7ac"/>
<ellipse cx="378.9" cy="345.0" rx="15.1" ry="12.8" fill="#e3d7ac"/>
<ellipse cx="358.0" cy="360.8" rx="18.6" ry="15.8" fill="#e3d7ac"/>
<ellipse cx="333.7" cy="365.2" rx="20.9" ry="15.8" fill="#e3d7ac"/>
<ellipse cx="310.5" cy="360.0" rx="19.7" ry="16.5" fill="#e3d7ac"/>
<ellipse cx="333.7" cy="343.5" rx="39.4" ry="24.0" fill="#e3d7ac"/>
<g filter="url(#blur3)">
<ellipse cx="294.4" cy="342.0" rx="13.9" ry="14.0" fill="#f9f1d4"/>
<ellipse cx="311.8" cy="324.8" rx="14.8" ry="11.7" fill="#f9f1d4"/>
<ellipse cx="331.5" cy="318.8" rx="13.0" ry="11.1" fill="#f9f1d4"/>
<ellipse cx="350.1" cy="321.8" rx="13.9" ry="11.7" fill="#f9f1d4"/>
<ellipse cx="366.3" cy="332.2" rx="12.1" ry="11.1" fill="#f9f1d4"/>
<ellipse cx="377.9" cy="343.5" rx="12.1" ry="9.9" fill="#f9f1d4"/>
<ellipse cx="357.0" cy="359.2" rx="14.8" ry="12.3" fill="#f9f1d4"/>
<ellipse cx="332.7" cy="363.8" rx="16.7" ry="12.3" fill="#f9f1d4"/>
<ellipse cx="309.5" cy="358.5" rx="15.8" ry="12.9" fill="#f9f1d4"/>
<ellipse cx="332.7" cy="342.0" rx="31.6" ry="18.7" fill="#f9f1d4"/>
</g></g>
<text x="300" y="347" font-family="Liberation Sans" font-size="27" fill="#141428" textLength="66" lengthAdjust="spacingAndGlyphs">SAN A</text>
<g>
<ellipse cx="558.1" cy="341.2" rx="17.1" ry="17.6" fill="#e3d7ac"/>
<ellipse cx="575.2" cy="324.3" rx="18.2" ry="14.7" fill="#e3d7ac"/>
<ellipse cx="594.6" cy="318.5" rx="16.0" ry="14.0" fill="#e3d7ac"/>
<ellipse cx="612.8" cy="321.4" rx="17.1" ry="14.7" fill="#e3d7ac"/>
<ellipse cx="628.8" cy="331.7" rx="14.8" ry="14.0" fill="#e3d7ac"/>
<ellipse cx="640.2" cy="342.7" rx="14.8" ry="12.5" fill="#e3d7ac"/>
<ellipse cx="619.7" cy="358.2" rx="18.2" ry="15.4" fill="#e3d7ac"/>
<ellipse cx="595.7" cy="362.6" rx="20.5" ry="15.4" fill="#e3d7ac"/>
<ellipse cx="572.9" cy="357.4" rx="19.4" ry="16.2" fill="#e3d7ac"/>
<ellipse cx="595.7" cy="341.2" rx="38.8" ry="23.5" fill="#e3d7ac"/>
<g filter="url(#blur3)">
<ellipse cx="557.1" cy="339.8" rx="13.7" ry="13.8" fill="#f9f1d4"/>
<ellipse cx="574.2" cy="322.8" rx="14.6" ry="11.5" fill="#f9f1d4"/>
<ellipse cx="593.6" cy="317.0" rx="12.8" ry="10.9" fill="#f9f1d4"/>
<ellipse cx="611.8" cy="319.9" rx="13.7" ry="11.5" fill="#f9f1d4"/>
<ellipse cx="627.8" cy="330.2" rx="11.9" ry="10.9" fill="#f9f1d4"/>
<ellipse cx="639.2" cy="341.2" rx="11.9" ry="9.7" fill="#f9f1d4"/>
<ellipse cx="618.7" cy="356.7" rx="14.6" ry="12.0" fill="#f9f1d4"/>
<ellipse cx="594.7" cy="361.1" rx="16.4" ry="12.0" fill="#f9f1d4"/>
<ellipse cx="571.9" cy="355.9" rx="15.5" ry="12.6" fill="#f9f1d4"/>
<ellipse cx="594.7" cy="339.8" rx="31.0" ry="18.3" fill="#f9f1d4"/>
</g></g>
<text x="558.3" y="346.1" font-family="Liberation Sans" font-size="27" fill="#141428" textLength="66.5" lengthAdjust="spacingAndGlyphs">SAN B</text>
<rect x="696.5" y="234" width="238" height="298" rx="12" fill="#8a8a8a" opacity="0.75" filter="url(#blur2)"/><rect x="695" y="232" width="238" height="298" rx="12" fill="url(#pg)" stroke="#d6d6d6" stroke-width="1.2"/>
<rect x="942.5" y="234" width="239" height="298" rx="12" fill="#8a8a8a" opacity="0.75" filter="url(#blur2)"/><rect x="941" y="232" width="239" height="298" rx="12" fill="url(#pg)" stroke="#d6d6d6" stroke-width="1.2"/>
<line x1="834.5" y1="193.9" x2="797.2" y2="246.5" stroke="#2f9668" stroke-width="1.7"/>
<line x1="890.0" y1="193.9" x2="845.0" y2="246.5" stroke="#2f9668" stroke-width="1.7"/>
<line x1="872.1" y1="186.0" x2="1007.2" y2="251.8" stroke="#2f9668" stroke-width="1.7"/>
<line x1="930.7" y1="186.0" x2="1062.2" y2="253.0" stroke="#2f9668" stroke-width="1.7"/>
<line x1="940.2" y1="187.2" x2="801.5" y2="255.3" stroke="#2f9668" stroke-width="1.7"/>
<line x1="999.6" y1="186.7" x2="856.5" y2="253.0" stroke="#2f9668" stroke-width="1.7"/>
<line x1="981.4" y1="194.4" x2="1015.6" y2="246.5" stroke="#2f9668" stroke-width="1.7"/>
<line x1="1039.5" y1="193.9" x2="1073.7" y2="245.8" stroke="#2f9668" stroke-width="1.7"/>
<polygon points="822,120 827,115 872,115 867,120" fill="#cdcdcd"/>
<polygon points="867,120 872,115 872,188 867,193" fill="#939393"/>
<rect x="822" y="120" width="45" height="73" fill="#b0b0b0"/>
<rect x="822" y="189" width="45" height="4" fill="#a2a2a2"/>
<rect x="827.5" y="121.3" width="35.5" height="10.899999999999999" rx="2" fill="#5083cc"/>
<text x="845.25" y="129.6" text-anchor="middle" font-family="Liberation Sans" font-weight="bold" font-size="8.9" fill="#0c1240">FC</text>
<rect x="826" y="134" width="38" height="54" fill="#7d7d7d"/>
<rect x="826" y="134" width="2.5" height="54" fill="#555"/>
<use href="#drive" transform="translate(829,136) scale(1.000,1.000)"/>
<use href="#drive" transform="translate(829,145.5) scale(1.000,1.000)"/>
<use href="#drive" transform="translate(829,155) scale(1.000,1.000)"/>
<use href="#drive" transform="translate(829,164.5) scale(1.000,1.000)"/>
<use href="#drive" transform="translate(829,174) scale(1.000,1.000)"/>
<use href="#drive" transform="translate(848,136) scale(1.143,1.000)"/>
<use href="#drive" transform="translate(848,145.5) scale(1.143,1.000)"/>
<use href="#drive" transform="translate(848,155) scale(1.143,1.000)"/>
<use href="#drive" transform="translate(848,164.5) scale(1.143,1.000)"/>
<use href="#drive" transform="translate(848,174) scale(1.143,1.000)"/>
<polygon points="881,120 886,115 931,115 926,120" fill="#cdcdcd"/>
<polygon points="926,120 931,115 931,188 926,193" fill="#939393"/>
<rect x="881" y="120" width="45" height="73" fill="#b0b0b0"/>
<rect x="881" y="189" width="45" height="4" fill="#a2a2a2"/>
<rect x="886.5" y="121.3" width="35.5" height="10.899999999999999" rx="2" fill="#5083cc"/>
<text x="904.25" y="129.6" text-anchor="middle" font-family="Liberation Sans" font-weight="bold" font-size="8.9" fill="#0c1240">FC</text>
<rect x="885" y="134" width="38" height="54" fill="#7d7d7d"/>
<rect x="885" y="134" width="2.5" height="54" fill="#555"/>
<use href="#drive" transform="translate(888,136) scale(1.000,1.000)"/>
<use href="#drive" transform="translate(888,145.5) scale(1.000,1.000)"/>
<use href="#drive" transform="translate(888,155) scale(1.000,1.000)"/>
<use href="#drive" transform="translate(888,164.5) scale(1.000,1.000)"/>
<use href="#drive" transform="translate(888,174) scale(1.000,1.000)"/>
<use href="#drive" transform="translate(907,136) scale(1.143,1.000)"/>
<use href="#drive" transform="translate(907,145.5) scale(1.143,1.000)"/>
<use href="#drive" transform="translate(907,155) scale(1.143,1.000)"/>
<use href="#drive" transform="translate(907,164.5) scale(1.143,1.000)"/>
<use href="#drive" transform="translate(907,174) scale(1.143,1.000)"/>
<polygon points="941,120 946,115 991,115 986,120" fill="#cdcdcd"/>
<polygon points="986,120 991,115 991,188 986,193" fill="#939393"/>
<rect x="941" y="120" width="45" height="73" fill="#b0b0b0"/>
<rect x="941" y="189" width="45" height="4" fill="#a2a2a2"/>
<rect x="946.5" y="121.3" width="35.5" height="10.899999999999999" rx="2" fill="#5083cc"/>
<text x="964.25" y="129.6" text-anchor="middle" font-family="Liberation Sans" font-weight="bold" font-size="8.9" fill="#0c1240">FC</text>
<rect x="945" y="134" width="38" height="54" fill="#7d7d7d"/>
<rect x="945" y="134" width="2.5" height="54" fill="#555"/>
<use href="#drive" transform="translate(948,136) scale(1.000,1.000)"/>
<use href="#drive" transform="translate(948,145.5) scale(1.000,1.000)"/>
<use href="#drive" transform="translate(948,155) scale(1.000,1.000)"/>
<use href="#drive" transform="translate(948,164.5) scale(1.000,1.000)"/>
<use href="#drive" transform="translate(948,174) scale(1.000,1.000)"/>
<use href="#drive" transform="translate(967,136) scale(1.143,1.000)"/>
<use href="#drive" transform="translate(967,145.5) scale(1.143,1.000)"/>
<use href="#drive" transform="translate(967,155) scale(1.143,1.000)"/>
<use href="#drive" transform="translate(967,164.5) scale(1.143,1.000)"/>
<use href="#drive" transform="translate(967,174) scale(1.143,1.000)"/>
<polygon points="1000,120 1005,115 1050,115 1045,120" fill="#cdcdcd"/>
<polygon points="1045,120 1050,115 1050,188 1045,193" fill="#939393"/>
<rect x="1000" y="120" width="45" height="73" fill="#b0b0b0"/>
<rect x="1000" y="189" width="45" height="4" fill="#a2a2a2"/>
<rect x="1005.5" y="121.3" width="35.5" height="10.899999999999999" rx="2" fill="#5083cc"/>
<text x="1023.25" y="129.6" text-anchor="middle" font-family="Liberation Sans" font-weight="bold" font-size="8.9" fill="#0c1240">FC</text>
<rect x="1004" y="134" width="38" height="54" fill="#7d7d7d"/>
<rect x="1004" y="134" width="2.5" height="54" fill="#555"/>
<use href="#drive" transform="translate(1007,136) scale(1.000,1.000)"/>
<use href="#drive" transform="translate(1007,145.5) scale(1.000,1.000)"/>
<use href="#drive" transform="translate(1007,155) scale(1.000,1.000)"/>
<use href="#drive" transform="translate(1007,164.5) scale(1.000,1.000)"/>
<use href="#drive" transform="translate(1007,174) scale(1.000,1.000)"/>
<use href="#drive" transform="translate(1026,136) scale(1.143,1.000)"/>
<use href="#drive" transform="translate(1026,145.5) scale(1.143,1.000)"/>
<use href="#drive" transform="translate(1026,155) scale(1.143,1.000)"/>
<use href="#drive" transform="translate(1026,164.5) scale(1.143,1.000)"/>
<use href="#drive" transform="translate(1026,174) scale(1.143,1.000)"/>
<line x1="799.5" y1="285.0" x2="815.0" y2="285.0" stroke="#1f9e1f" stroke-width="1.1"/>
<line x1="799.5" y1="288.0" x2="815.0" y2="288.0" stroke="#1f9e1f" stroke-width="1.1"/>
<line x1="799.5" y1="374.5" x2="815.0" y2="374.5" stroke="#1f9e1f" stroke-width="1.1"/>
<line x1="799.5" y1="377.5" x2="815.0" y2="377.5" stroke="#1f9e1f" stroke-width="1.1"/>
<line x1="779.0" y1="326.0" x2="779.0" y2="350.0" stroke="#1f9e1f" stroke-width="1.1"/>
<line x1="782.0" y1="326.0" x2="782.0" y2="350.0" stroke="#1f9e1f" stroke-width="1.1"/>
<line x1="782.0" y1="327.0" x2="835.0" y2="348.0" stroke="#1f9e1f" stroke-width="1.1"/>
<line x1="782.0" y1="347.0" x2="835.0" y2="326.0" stroke="#1f9e1f" stroke-width="1.1"/>
<line x1="782.0" y1="330.0" x2="835.0" y2="351.0" stroke="#1f9e1f" stroke-width="1.1"/>
<line x1="782.0" y1="344.0" x2="835.0" y2="323.0" stroke="#1f9e1f" stroke-width="1.1"/>
<line x1="1045.2" y1="285.0" x2="1060.7" y2="285.0" stroke="#1f9e1f" stroke-width="1.1"/>
<line x1="1045.2" y1="288.0" x2="1060.7" y2="288.0" stroke="#1f9e1f" stroke-width="1.1"/>
<line x1="1045.2" y1="374.5" x2="1060.7" y2="374.5" stroke="#1f9e1f" stroke-width="1.1"/>
<line x1="1045.2" y1="377.5" x2="1060.7" y2="377.5" stroke="#1f9e1f" stroke-width="1.1"/>
<line x1="1024.7" y1="326.0" x2="1024.7" y2="350.0" stroke="#1f9e1f" stroke-width="1.1"/>
<line x1="1027.7" y1="326.0" x2="1027.7" y2="350.0" stroke="#1f9e1f" stroke-width="1.1"/>
<line x1="1027.7" y1="327.0" x2="1080.7" y2="348.0" stroke="#1f9e1f" stroke-width="1.1"/>
<line x1="1027.7" y1="347.0" x2="1080.7" y2="326.0" stroke="#1f9e1f" stroke-width="1.1"/>
<line x1="1027.7" y1="330.0" x2="1080.7" y2="351.0" stroke="#1f9e1f" stroke-width="1.1"/>
<line x1="1027.7" y1="344.0" x2="1080.7" y2="323.0" stroke="#1f9e1f" stroke-width="1.1"/>
<polygon points="761,251.5 764.5,247.5 803.0,247.5 799.5,251.5" fill="#d3d3d3"/>
<polygon points="799.5,251.5 803.0,247.5 803.0,293.5 799.5,297.5" fill="#8a8a8a"/>
<polygon points="799.5,297.5 803.0,293.5 803.0,322.8 799.5,326.8" fill="#079607"/>
<rect x="761" y="251.5" width="38.5" height="46" fill="#acacac"/>
<rect x="761" y="297.5" width="38.5" height="29.299999999999997" fill="#33cc33"/>
<rect x="761" y="296.7" width="38.5" height="1" fill="#c4bcc4"/>
<use href="#star" transform="translate(779.865,275.42) scale(1.0,0.89)"/>
<polygon points="815,250.2 818.5,246.2 857.0,246.2 853.5,250.2" fill="#d3d3d3"/>
<polygon points="853.5,250.2 857.0,246.2 857.0,292.2 853.5,296.2" fill="#8a8a8a"/>
<polygon points="853.5,296.2 857.0,292.2 857.0,321.5 853.5,325.5" fill="#079607"/>
<rect x="815" y="250.2" width="38.5" height="46" fill="#acacac"/>
<rect x="815" y="296.2" width="38.5" height="29.299999999999997" fill="#33cc33"/>
<rect x="815" y="295.4" width="38.5" height="1" fill="#c4bcc4"/>
<use href="#star" transform="translate(833.865,274.12) scale(1.0,0.89)"/>
<polygon points="1006.7,250.3 1010.2,246.3 1048.7,246.3 1045.2,250.3" fill="#d3d3d3"/>
<polygon points="1045.2,250.3 1048.7,246.3 1048.7,292.3 1045.2,296.3" fill="#8a8a8a"/>
<polygon points="1045.2,296.3 1048.7,292.3 1048.7,321.6 1045.2,325.6" fill="#079607"/>
<rect x="1006.7" y="250.3" width="38.5" height="46" fill="#acacac"/>
<rect x="1006.7" y="296.3" width="38.5" height="29.299999999999997" fill="#33cc33"/>
<rect x="1006.7" y="295.5" width="38.5" height="1" fill="#c4bcc4"/>
<use href="#star" transform="translate(1025.565,274.22) scale(1.0,0.89)"/>
<polygon points="1062.3,249 1065.8,245 1104.3,245 1100.8,249" fill="#d3d3d3"/>
<polygon points="1100.8,249 1104.3,245 1104.3,291 1100.8,295" fill="#8a8a8a"/>
<polygon points="1100.8,295 1104.3,291 1104.3,320.3 1100.8,324.3" fill="#079607"/>
<rect x="1062.3" y="249" width="38.5" height="46" fill="#acacac"/>
<rect x="1062.3" y="295" width="38.5" height="29.299999999999997" fill="#33cc33"/>
<rect x="1062.3" y="294.2" width="38.5" height="1" fill="#c4bcc4"/>
<use href="#star" transform="translate(1081.165,272.92) scale(1.0,0.89)"/>
<polygon points="761,353.3 764.5,349.3 803.0,349.3 799.5,353.3" fill="#d3d3d3"/>
<polygon points="799.5,353.3 803.0,349.3 803.0,395.3 799.5,399.3" fill="#8a8a8a"/>
<polygon points="799.5,399.3 803.0,395.3 803.0,424.6 799.5,428.6" fill="#079607"/>
<rect x="761" y="353.3" width="38.5" height="46" fill="#acacac"/>
<rect x="761" y="399.3" width="38.5" height="29.299999999999997" fill="#33cc33"/>
<rect x="761" y="398.5" width="38.5" height="1" fill="#c4bcc4"/>
<use href="#star" transform="translate(779.865,377.22) scale(1.0,0.89)"/>
<polygon points="816,352 819.5,348 858.0,348 854.5,352" fill="#d3d3d3"/>
<polygon points="854.5,352 858.0,348 858.0,394 854.5,398" fill="#8a8a8a"/>
<polygon points="854.5,398 858.0,394 858.0,423.3 854.5,427.3" fill="#079607"/>
<rect x="816" y="352" width="38.5" height="46" fill="#acacac"/>
<rect x="816" y="398" width="38.5" height="29.299999999999997" fill="#33cc33"/>
<rect x="816" y="397.2" width="38.5" height="1" fill="#c4bcc4"/>
<use href="#star" transform="translate(834.865,375.92) scale(1.0,0.89)"/>
<polygon points="1007.8,353 1011.3,349 1049.8,349 1046.3,353" fill="#d3d3d3"/>
<polygon points="1046.3,353 1049.8,349 1049.8,395 1046.3,399" fill="#8a8a8a"/>
<polygon points="1046.3,399 1049.8,395 1049.8,424.3 1046.3,428.3" fill="#079607"/>
<rect x="1007.8" y="353" width="38.5" height="46" fill="#acacac"/>
<rect x="1007.8" y="399" width="38.5" height="29.299999999999997" fill="#33cc33"/>
<rect x="1007.8" y="398.2" width="38.5" height="1" fill="#c4bcc4"/>
<use href="#star" transform="translate(1026.665,376.92) scale(1.0,0.89)"/>
<polygon points="1062.3,352 1065.8,348 1104.3,348 1100.8,352" fill="#d3d3d3"/>
<polygon points="1100.8,352 1104.3,348 1104.3,394 1100.8,398" fill="#8a8a8a"/>
<polygon points="1100.8,398 1104.3,394 1104.3,423.3 1100.8,427.3" fill="#079607"/>
<rect x="1062.3" y="352" width="38.5" height="46" fill="#acacac"/>
<rect x="1062.3" y="398" width="38.5" height="29.299999999999997" fill="#33cc33"/>
<rect x="1062.3" y="397.2" width="38.5" height="1" fill="#c4bcc4"/>
<use href="#star" transform="translate(1081.165,375.92) scale(1.0,0.89)"/>
<line x1="767.0" y1="427.5" x2="727.4" y2="436.4" stroke="#14a014" stroke-width="0.8"/>
<line x1="767.0" y1="428.5" x2="727.4" y2="439.6" stroke="#14a014" stroke-width="0.8"/>
<line x1="767.0" y1="427.5" x2="782.0" y2="436.4" stroke="#14a014" stroke-width="0.8"/>
<line x1="767.0" y1="428.5" x2="782.0" y2="439.6" stroke="#14a014" stroke-width="0.8"/>
<line x1="767.0" y1="427.5" x2="851.6" y2="436.4" stroke="#14a014" stroke-width="0.8"/>
<line x1="767.0" y1="428.5" x2="851.6" y2="439.6" stroke="#14a014" stroke-width="0.8"/>
<line x1="767.0" y1="427.5" x2="902.6" y2="436.4" stroke="#14a014" stroke-width="0.8"/>
<line x1="767.0" y1="428.5" x2="902.6" y2="439.6" stroke="#14a014" stroke-width="0.8"/>
<line x1="793.0" y1="427.5" x2="727.4" y2="436.4" stroke="#14a014" stroke-width="0.8"/>
<line x1="793.0" y1="428.5" x2="727.4" y2="439.6" stroke="#14a014" stroke-width="0.8"/>
<line x1="793.0" y1="427.5" x2="782.0" y2="436.4" stroke="#14a014" stroke-width="0.8"/>
<line x1="793.0" y1="428.5" x2="782.0" y2="439.6" stroke="#14a014" stroke-width="0.8"/>
<line x1="793.0" y1="427.5" x2="851.6" y2="436.4" stroke="#14a014" stroke-width="0.8"/>
<line x1="793.0" y1="428.5" x2="851.6" y2="439.6" stroke="#14a014" stroke-width="0.8"/>
<line x1="793.0" y1="427.5" x2="902.6" y2="436.4" stroke="#14a014" stroke-width="0.8"/>
<line x1="793.0" y1="428.5" x2="902.6" y2="439.6" stroke="#14a014" stroke-width="0.8"/>
<line x1="822.0" y1="427.5" x2="727.4" y2="436.4" stroke="#14a014" stroke-width="0.8"/>
<line x1="822.0" y1="428.5" x2="727.4" y2="439.6" stroke="#14a014" stroke-width="0.8"/>
<line x1="822.0" y1="427.5" x2="782.0" y2="436.4" stroke="#14a014" stroke-width="0.8"/>
<line x1="822.0" y1="428.5" x2="782.0" y2="439.6" stroke="#14a014" stroke-width="0.8"/>
<line x1="822.0" y1="427.5" x2="851.6" y2="436.4" stroke="#14a014" stroke-width="0.8"/>
<line x1="822.0" y1="428.5" x2="851.6" y2="439.6" stroke="#14a014" stroke-width="0.8"/>
<line x1="822.0" y1="427.5" x2="902.6" y2="436.4" stroke="#14a014" stroke-width="0.8"/>
<line x1="822.0" y1="428.5" x2="902.6" y2="439.6" stroke="#14a014" stroke-width="0.8"/>
<line x1="848.0" y1="427.5" x2="727.4" y2="436.4" stroke="#14a014" stroke-width="0.8"/>
<line x1="848.0" y1="428.5" x2="727.4" y2="439.6" stroke="#14a014" stroke-width="0.8"/>
<line x1="848.0" y1="427.5" x2="782.0" y2="436.4" stroke="#14a014" stroke-width="0.8"/>
<line x1="848.0" y1="428.5" x2="782.0" y2="439.6" stroke="#14a014" stroke-width="0.8"/>
<line x1="848.0" y1="427.5" x2="851.6" y2="436.4" stroke="#14a014" stroke-width="0.8"/>
<line x1="848.0" y1="428.5" x2="851.6" y2="439.6" stroke="#14a014" stroke-width="0.8"/>
<line x1="848.0" y1="427.5" x2="902.6" y2="436.4" stroke="#14a014" stroke-width="0.8"/>
<line x1="848.0" y1="428.5" x2="902.6" y2="439.6" stroke="#14a014" stroke-width="0.8"/>
<line x1="1013.8" y1="427.5" x2="973.2" y2="436.4" stroke="#14a014" stroke-width="0.8"/>
<line x1="1013.8" y1="428.5" x2="973.2" y2="439.6" stroke="#14a014" stroke-width="0.8"/>
<line x1="1013.8" y1="427.5" x2="1028.8" y2="436.4" stroke="#14a014" stroke-width="0.8"/>
<line x1="1013.8" y1="428.5" x2="1028.8" y2="439.6" stroke="#14a014" stroke-width="0.8"/>
<line x1="1013.8" y1="427.5" x2="1097.0" y2="436.4" stroke="#14a014" stroke-width="0.8"/>
<line x1="1013.8" y1="428.5" x2="1097.0" y2="439.6" stroke="#14a014" stroke-width="0.8"/>
<line x1="1013.8" y1="427.5" x2="1148.4" y2="436.4" stroke="#14a014" stroke-width="0.8"/>
<line x1="1013.8" y1="428.5" x2="1148.4" y2="439.6" stroke="#14a014" stroke-width="0.8"/>
<line x1="1039.8" y1="427.5" x2="973.2" y2="436.4" stroke="#14a014" stroke-width="0.8"/>
<line x1="1039.8" y1="428.5" x2="973.2" y2="439.6" stroke="#14a014" stroke-width="0.8"/>
<line x1="1039.8" y1="427.5" x2="1028.8" y2="436.4" stroke="#14a014" stroke-width="0.8"/>
<line x1="1039.8" y1="428.5" x2="1028.8" y2="439.6" stroke="#14a014" stroke-width="0.8"/>
<line x1="1039.8" y1="427.5" x2="1097.0" y2="436.4" stroke="#14a014" stroke-width="0.8"/>
<line x1="1039.8" y1="428.5" x2="1097.0" y2="439.6" stroke="#14a014" stroke-width="0.8"/>
<line x1="1039.8" y1="427.5" x2="1148.4" y2="436.4" stroke="#14a014" stroke-width="0.8"/>
<line x1="1039.8" y1="428.5" x2="1148.4" y2="439.6" stroke="#14a014" stroke-width="0.8"/>
<line x1="1068.3" y1="427.5" x2="973.2" y2="436.4" stroke="#14a014" stroke-width="0.8"/>
<line x1="1068.3" y1="428.5" x2="973.2" y2="439.6" stroke="#14a014" stroke-width="0.8"/>
<line x1="1068.3" y1="427.5" x2="1028.8" y2="436.4" stroke="#14a014" stroke-width="0.8"/>
<line x1="1068.3" y1="428.5" x2="1028.8" y2="439.6" stroke="#14a014" stroke-width="0.8"/>
<line x1="1068.3" y1="427.5" x2="1097.0" y2="436.4" stroke="#14a014" stroke-width="0.8"/>
<line x1="1068.3" y1="428.5" x2="1097.0" y2="439.6" stroke="#14a014" stroke-width="0.8"/>
<line x1="1068.3" y1="427.5" x2="1148.4" y2="436.4" stroke="#14a014" stroke-width="0.8"/>
<line x1="1068.3" y1="428.5" x2="1148.4" y2="439.6" stroke="#14a014" stroke-width="0.8"/>
<line x1="1094.3" y1="427.5" x2="973.2" y2="436.4" stroke="#14a014" stroke-width="0.8"/>
<line x1="1094.3" y1="428.5" x2="973.2" y2="439.6" stroke="#14a014" stroke-width="0.8"/>
<line x1="1094.3" y1="427.5" x2="1028.8" y2="436.4" stroke="#14a014" stroke-width="0.8"/>
<line x1="1094.3" y1="428.5" x2="1028.8" y2="439.6" stroke="#14a014" stroke-width="0.8"/>
<line x1="1094.3" y1="427.5" x2="1097.0" y2="436.4" stroke="#14a014" stroke-width="0.8"/>
<line x1="1094.3" y1="428.5" x2="1097.0" y2="439.6" stroke="#14a014" stroke-width="0.8"/>
<line x1="1094.3" y1="427.5" x2="1148.4" y2="436.4" stroke="#14a014" stroke-width="0.8"/>
<line x1="1094.3" y1="428.5" x2="1148.4" y2="439.6" stroke="#14a014" stroke-width="0.8"/>
<polygon points="706.4,442.3 709.9,438.3 748.4,438.3 744.9,442.3" fill="#d3d3d3"/>
<polygon points="744.9,442.3 748.4,438.3 748.4,485.0 744.9,489.0" fill="#8a8a8a"/>
<polygon points="744.9,489.0 748.4,485.0 748.4,513.8 744.9,517.8" fill="#079607"/>
<rect x="706.4" y="442.3" width="38.5" height="46.7" fill="#acacac"/>
<rect x="706.4" y="489.0" width="38.5" height="28.799999999999997" fill="#33cc33"/>
<rect x="706.4" y="488.2" width="38.5" height="1" fill="#c4bcc4"/>
<use href="#star" transform="translate(725.265,466.584) scale(1.0,0.89)"/>
<polygon points="761,441 764.5,437 803.0,437 799.5,441" fill="#d3d3d3"/>
<polygon points="799.5,441 803.0,437 803.0,483.7 799.5,487.7" fill="#8a8a8a"/>
<polygon points="799.5,487.7 803.0,483.7 803.0,512.5 799.5,516.5" fill="#079607"/>
<rect x="761" y="441" width="38.5" height="46.7" fill="#acacac"/>
<rect x="761" y="487.7" width="38.5" height="28.799999999999997" fill="#33cc33"/>
<rect x="761" y="486.9" width="38.5" height="1" fill="#c4bcc4"/>
<use href="#star" transform="translate(779.865,465.284) scale(1.0,0.89)"/>
<polygon points="830.6,442.3 834.1,438.3 872.6,438.3 869.1,442.3" fill="#d3d3d3"/>
<polygon points="869.1,442.3 872.6,438.3 872.6,485.0 869.1,489.0" fill="#8a8a8a"/>
<polygon points="869.1,489.0 872.6,485.0 872.6,513.8 869.1,517.8" fill="#079607"/>
<rect x="830.6" y="442.3" width="38.5" height="46.7" fill="#acacac"/>
<rect x="830.6" y="489.0" width="38.5" height="28.799999999999997" fill="#33cc33"/>
<rect x="830.6" y="488.2" width="38.5" height="1" fill="#c4bcc4"/>
<use href="#star" transform="translate(849.465,466.584) scale(1.0,0.89)"/>
<polygon points="881.6,441 885.1,437 923.6,437 920.1,441" fill="#d3d3d3"/>
<polygon points="920.1,441 923.6,437 923.6,483.7 920.1,487.7" fill="#8a8a8a"/>
<polygon points="920.1,487.7 923.6,483.7 923.6,512.5 920.1,516.5" fill="#079607"/>
<rect x="881.6" y="441" width="38.5" height="46.7" fill="#acacac"/>
<rect x="881.6" y="487.7" width="38.5" height="28.799999999999997" fill="#33cc33"/>
<rect x="881.6" y="486.9" width="38.5" height="1" fill="#c4bcc4"/>
<use href="#star" transform="translate(900.465,465.284) scale(1.0,0.89)"/>
<polygon points="952.2,442.4 955.7,438.4 994.2,438.4 990.7,442.4" fill="#d3d3d3"/>
<polygon points="990.7,442.4 994.2,438.4 994.2,485.09999999999997 990.7,489.09999999999997" fill="#8a8a8a"/>
<polygon points="990.7,489.09999999999997 994.2,485.09999999999997 994.2,513.9 990.7,517.9" fill="#079607"/>
<rect x="952.2" y="442.4" width="38.5" height="46.7" fill="#acacac"/>
<rect x="952.2" y="489.09999999999997" width="38.5" height="28.799999999999997" fill="#33cc33"/>
<rect x="952.2" y="488.29999999999995" width="38.5" height="1" fill="#c4bcc4"/>
<use href="#star" transform="translate(971.065,466.68399999999997) scale(1.0,0.89)"/>
<polygon points="1007.8,440.6 1011.3,436.6 1049.8,436.6 1046.3,440.6" fill="#d3d3d3"/>
<polygon points="1046.3,440.6 1049.8,436.6 1049.8,483.3 1046.3,487.3" fill="#8a8a8a"/>
<polygon points="1046.3,487.3 1049.8,483.3 1049.8,512.1 1046.3,516.1" fill="#079607"/>
<rect x="1007.8" y="440.6" width="38.5" height="46.7" fill="#acacac"/>
<rect x="1007.8" y="487.3" width="38.5" height="28.799999999999997" fill="#33cc33"/>
<rect x="1007.8" y="486.5" width="38.5" height="1" fill="#c4bcc4"/>
<use href="#star" transform="translate(1026.665,464.884) scale(1.0,0.89)"/>
<polygon points="1076,442.4 1079.5,438.4 1118.0,438.4 1114.5,442.4" fill="#d3d3d3"/>
<polygon points="1114.5,442.4 1118.0,438.4 1118.0,485.09999999999997 1114.5,489.09999999999997" fill="#8a8a8a"/>
<polygon points="1114.5,489.09999999999997 1118.0,485.09999999999997 1118.0,513.9 1114.5,517.9" fill="#079607"/>
<rect x="1076" y="442.4" width="38.5" height="46.7" fill="#acacac"/>
<rect x="1076" y="489.09999999999997" width="38.5" height="28.799999999999997" fill="#33cc33"/>
<rect x="1076" y="488.29999999999995" width="38.5" height="1" fill="#c4bcc4"/>
<use href="#star" transform="translate(1094.865,466.68399999999997) scale(1.0,0.89)"/>
<polygon points="1127.4,440.6 1130.9,436.6 1169.4,436.6 1165.9,440.6" fill="#d3d3d3"/>
<polygon points="1165.9,440.6 1169.4,436.6 1169.4,483.3 1165.9,487.3" fill="#8a8a8a"/>
<polygon points="1165.9,487.3 1169.4,483.3 1169.4,512.1 1165.9,516.1" fill="#079607"/>
<rect x="1127.4" y="440.6" width="38.5" height="46.7" fill="#acacac"/>
<rect x="1127.4" y="487.3" width="38.5" height="28.799999999999997" fill="#33cc33"/>
<rect x="1127.4" y="486.5" width="38.5" height="1" fill="#c4bcc4"/>
<use href="#star" transform="translate(1146.265,464.884) scale(1.0,0.89)"/>
<line x1="746.9" y1="510.0" x2="814.5" y2="559.0" stroke="#2f9668" stroke-width="1.7"/>
<line x1="746.9" y1="513.0" x2="831.1" y2="549.0" stroke="#2f9668" stroke-width="1.7"/>
<line x1="733.4" y1="517.0" x2="862.2" y2="550.0" stroke="#2f9668" stroke-width="1.7"/>
<line x1="741.0" y1="517.0" x2="860.0" y2="578.6" stroke="#2f9668" stroke-width="1.7"/>
<line x1="951.2" y1="510.0" x2="940.4" y2="559.0" stroke="#2f9668" stroke-width="1.7"/>
<line x1="951.2" y1="513.0" x2="891.7" y2="550.0" stroke="#2f9668" stroke-width="1.7"/>
<line x1="963.8" y1="517.0" x2="923.1" y2="549.0" stroke="#2f9668" stroke-width="1.7"/>
<line x1="958.0" y1="517.0" x2="894.4" y2="578.6" stroke="#2f9668" stroke-width="1.7"/>
<line x1="961.8" y1="517.0" x2="955.3" y2="578.6" stroke="#2f9668" stroke-width="1.7"/>
<line x1="801.5" y1="510.0" x2="861.7" y2="559.0" stroke="#2f9668" stroke-width="1.7"/>
<line x1="801.5" y1="513.0" x2="878.3" y2="549.0" stroke="#2f9668" stroke-width="1.7"/>
<line x1="788.0" y1="517.0" x2="909.9" y2="550.0" stroke="#2f9668" stroke-width="1.7"/>
<line x1="795.6" y1="517.0" x2="906.3" y2="578.6" stroke="#2f9668" stroke-width="1.7"/>
<line x1="1006.8" y1="510.0" x2="981.3" y2="559.0" stroke="#2f9668" stroke-width="1.7"/>
<line x1="1006.8" y1="513.0" x2="939.4" y2="550.0" stroke="#2f9668" stroke-width="1.7"/>
<line x1="1019.3" y1="517.0" x2="964.0" y2="549.0" stroke="#2f9668" stroke-width="1.7"/>
<line x1="1013.6" y1="517.0" x2="942.4" y2="578.6" stroke="#2f9668" stroke-width="1.7"/>
<line x1="1017.4" y1="517.0" x2="996.2" y2="578.6" stroke="#2f9668" stroke-width="1.7"/>
<line x1="871.1" y1="510.0" x2="909.4" y2="559.0" stroke="#2f9668" stroke-width="1.7"/>
<line x1="871.1" y1="513.0" x2="926.0" y2="549.0" stroke="#2f9668" stroke-width="1.7"/>
<line x1="857.6" y1="517.0" x2="950.8" y2="550.0" stroke="#2f9668" stroke-width="1.7"/>
<line x1="865.2" y1="517.0" x2="954.3" y2="578.6" stroke="#2f9668" stroke-width="1.7"/>
<line x1="1075.0" y1="510.0" x2="1029.2" y2="559.0" stroke="#2f9668" stroke-width="1.7"/>
<line x1="1075.0" y1="513.0" x2="980.3" y2="550.0" stroke="#2f9668" stroke-width="1.7"/>
<line x1="1087.5" y1="517.0" x2="1012.0" y2="549.0" stroke="#2f9668" stroke-width="1.7"/>
<line x1="1081.8" y1="517.0" x2="983.3" y2="578.6" stroke="#2f9668" stroke-width="1.7"/>
<line x1="1085.6" y1="517.0" x2="1044.0" y2="578.6" stroke="#2f9668" stroke-width="1.7"/>
<line x1="922.1" y1="510.0" x2="950.3" y2="559.0" stroke="#2f9668" stroke-width="1.7"/>
<line x1="922.1" y1="513.0" x2="966.9" y2="549.0" stroke="#2f9668" stroke-width="1.7"/>
<line x1="908.6" y1="517.0" x2="998.7" y2="550.0" stroke="#2f9668" stroke-width="1.7"/>
<line x1="916.2" y1="517.0" x2="995.2" y2="578.6" stroke="#2f9668" stroke-width="1.7"/>
<line x1="1126.4" y1="510.0" x2="1076.2" y2="559.0" stroke="#2f9668" stroke-width="1.7"/>
<line x1="1126.4" y1="513.0" x2="1028.2" y2="550.0" stroke="#2f9668" stroke-width="1.7"/>
<line x1="1139.0" y1="517.0" x2="1059.0" y2="549.0" stroke="#2f9668" stroke-width="1.7"/>
<line x1="1133.2" y1="517.0" x2="1031.1" y2="578.6" stroke="#2f9668" stroke-width="1.7"/>
<line x1="1137.0" y1="517.0" x2="1091.4" y2="578.6" stroke="#2f9668" stroke-width="1.7"/>
<polygon points="814,552 818,547.5 846.5,547.5 842.5,552" fill="#cfcdb4" stroke="#9c9a80" stroke-width="0.7"/>
<polygon points="842.5,552 846.5,547.5 846.5,602.9 842.5,607.4" fill="#7b795b" stroke="#6e6c50" stroke-width="0.6"/>
<rect x="814" y="552" width="28.5" height="55.4" fill="#bdbba0" stroke="#8f8d72" stroke-width="0.8"/>
<rect x="816" y="557" width="13" height="8" fill="#d6d5c0" stroke="#a9a78e" stroke-width="0.6"/>
<rect x="817.5" y="559.5" width="10" height="3" fill="#ecebdc"/>
<line x1="814" y1="573" x2="842.5" y2="573" stroke="#7f7d63" stroke-width="1.2"/>
<line x1="814" y1="601.9" x2="842.5" y2="601.9" stroke="#7f7d63" stroke-width="1.1"/>
<rect x="814.5" y="602.6" width="27.5" height="4.3" fill="#c9c7ae"/>
<polygon points="861.2,552 865.2,547.5 893.7,547.5 889.7,552" fill="#cfcdb4" stroke="#9c9a80" stroke-width="0.7"/>
<polygon points="889.7,552 893.7,547.5 893.7,602.9 889.7,607.4" fill="#7b795b" stroke="#6e6c50" stroke-width="0.6"/>
<rect x="861.2" y="552" width="28.5" height="55.4" fill="#bdbba0" stroke="#8f8d72" stroke-width="0.8"/>
<rect x="863.2" y="557" width="13" height="8" fill="#d6d5c0" stroke="#a9a78e" stroke-width="0.6"/>
<rect x="864.7" y="559.5" width="10" height="3" fill="#ecebdc"/>
<line x1="861.2" y1="573" x2="889.7" y2="573" stroke="#7f7d63" stroke-width="1.2"/>
<line x1="861.2" y1="601.9" x2="889.7" y2="601.9" stroke="#7f7d63" stroke-width="1.1"/>
<rect x="861.7" y="602.6" width="27.5" height="4.3" fill="#c9c7ae"/>
<polygon points="908.9,552 912.9,547.5 941.4,547.5 937.4,552" fill="#cfcdb4" stroke="#9c9a80" stroke-width="0.7"/>
<polygon points="937.4,552 941.4,547.5 941.4,602.9 937.4,607.4" fill="#7b795b" stroke="#6e6c50" stroke-width="0.6"/>
<rect x="908.9" y="552" width="28.5" height="55.4" fill="#bdbba0" stroke="#8f8d72" stroke-width="0.8"/>
<rect x="910.9" y="557" width="13" height="8" fill="#d6d5c0" stroke="#a9a78e" stroke-width="0.6"/>
<rect x="912.4" y="559.5" width="10" height="3" fill="#ecebdc"/>
<line x1="908.9" y1="573" x2="937.4" y2="573" stroke="#7f7d63" stroke-width="1.2"/>
<line x1="908.9" y1="601.9" x2="937.4" y2="601.9" stroke="#7f7d63" stroke-width="1.1"/>
<rect x="909.4" y="602.6" width="27.5" height="4.3" fill="#c9c7ae"/>
<polygon points="949.8,552 953.8,547.5 982.3,547.5 978.3,552" fill="#cfcdb4" stroke="#9c9a80" stroke-width="0.7"/>
<polygon points="978.3,552 982.3,547.5 982.3,602.9 978.3,607.4" fill="#7b795b" stroke="#6e6c50" stroke-width="0.6"/>
<rect x="949.8" y="552" width="28.5" height="55.4" fill="#bdbba0" stroke="#8f8d72" stroke-width="0.8"/>
<rect x="951.8" y="557" width="13" height="8" fill="#d6d5c0" stroke="#a9a78e" stroke-width="0.6"/>
<rect x="953.3" y="559.5" width="10" height="3" fill="#ecebdc"/>
<line x1="949.8" y1="573" x2="978.3" y2="573" stroke="#7f7d63" stroke-width="1.2"/>
<line x1="949.8" y1="601.9" x2="978.3" y2="601.9" stroke="#7f7d63" stroke-width="1.1"/>
<rect x="950.3" y="602.6" width="27.5" height="4.3" fill="#c9c7ae"/>
<polygon points="997.7,552 1001.7,547.5 1030.2,547.5 1026.2,552" fill="#cfcdb4" stroke="#9c9a80" stroke-width="0.7"/>
<polygon points="1026.2,552 1030.2,547.5 1030.2,602.9 1026.2,607.4" fill="#7b795b" stroke="#6e6c50" stroke-width="0.6"/>
<rect x="997.7" y="552" width="28.5" height="55.4" fill="#bdbba0" stroke="#8f8d72" stroke-width="0.8"/>
<rect x="999.7" y="557" width="13" height="8" fill="#d6d5c0" stroke="#a9a78e" stroke-width="0.6"/>
<rect x="1001.2" y="559.5" width="10" height="3" fill="#ecebdc"/>
<line x1="997.7" y1="573" x2="1026.2" y2="573" stroke="#7f7d63" stroke-width="1.2"/>
<line x1="997.7" y1="601.9" x2="1026.2" y2="601.9" stroke="#7f7d63" stroke-width="1.1"/>
<rect x="998.2" y="602.6" width="27.5" height="4.3" fill="#c9c7ae"/>
<polygon points="1044.7,552 1048.7,547.5 1077.2,547.5 1073.2,552" fill="#cfcdb4" stroke="#9c9a80" stroke-width="0.7"/>
<polygon points="1073.2,552 1077.2,547.5 1077.2,602.9 1073.2,607.4" fill="#7b795b" stroke="#6e6c50" stroke-width="0.6"/>
<rect x="1044.7" y="552" width="28.5" height="55.4" fill="#bdbba0" stroke="#8f8d72" stroke-width="0.8"/>
<rect x="1046.7" y="557" width="13" height="8" fill="#d6d5c0" stroke="#a9a78e" stroke-width="0.6"/>
<rect x="1048.2" y="559.5" width="10" height="3" fill="#ecebdc"/>
<line x1="1044.7" y1="573" x2="1073.2" y2="573" stroke="#7f7d63" stroke-width="1.2"/>
<line x1="1044.7" y1="601.9" x2="1073.2" y2="601.9" stroke="#7f7d63" stroke-width="1.1"/>
<rect x="1045.2" y="602.6" width="27.5" height="4.3" fill="#c9c7ae"/>
<polygon points="831,580.6 835,576.1 863.5,576.1 859.5,580.6" fill="#cfcdb4" stroke="#9c9a80" stroke-width="0.7"/>
<polygon points="859.5,580.6 863.5,576.1 863.5,631.5 859.5,636.0" fill="#7b795b" stroke="#6e6c50" stroke-width="0.6"/>
<rect x="831" y="580.6" width="28.5" height="55.4" fill="#bdbba0" stroke="#8f8d72" stroke-width="0.8"/>
<rect x="833" y="585.6" width="13" height="8" fill="#d6d5c0" stroke="#a9a78e" stroke-width="0.6"/>
<rect x="834.5" y="588.1" width="10" height="3" fill="#ecebdc"/>
<line x1="831" y1="603.1" x2="859.5" y2="603.1" stroke="#7f7d63" stroke-width="1.2"/>
<line x1="831" y1="630.5" x2="859.5" y2="630.5" stroke="#7f7d63" stroke-width="1.1"/>
<rect x="831.5" y="631.2" width="27.5" height="4.3" fill="#c9c7ae"/>
<polygon points="877.3,580.6 881.3,576.1 909.8,576.1 905.8,580.6" fill="#cfcdb4" stroke="#9c9a80" stroke-width="0.7"/>
<polygon points="905.8,580.6 909.8,576.1 909.8,631.5 905.8,636.0" fill="#7b795b" stroke="#6e6c50" stroke-width="0.6"/>
<rect x="877.3" y="580.6" width="28.5" height="55.4" fill="#bdbba0" stroke="#8f8d72" stroke-width="0.8"/>
<rect x="879.3" y="585.6" width="13" height="8" fill="#d6d5c0" stroke="#a9a78e" stroke-width="0.6"/>
<rect x="880.8" y="588.1" width="10" height="3" fill="#ecebdc"/>
<line x1="877.3" y1="603.1" x2="905.8" y2="603.1" stroke="#7f7d63" stroke-width="1.2"/>
<line x1="877.3" y1="630.5" x2="905.8" y2="630.5" stroke="#7f7d63" stroke-width="1.1"/>
<rect x="877.8" y="631.2" width="27.5" height="4.3" fill="#c9c7ae"/>
<polygon points="925.3,580.6 929.3,576.1 957.8,576.1 953.8,580.6" fill="#cfcdb4" stroke="#9c9a80" stroke-width="0.7"/>
<polygon points="953.8,580.6 957.8,576.1 957.8,631.5 953.8,636.0" fill="#7b795b" stroke="#6e6c50" stroke-width="0.6"/>
<rect x="925.3" y="580.6" width="28.5" height="55.4" fill="#bdbba0" stroke="#8f8d72" stroke-width="0.8"/>
<rect x="927.3" y="585.6" width="13" height="8" fill="#d6d5c0" stroke="#a9a78e" stroke-width="0.6"/>
<rect x="928.8" y="588.1" width="10" height="3" fill="#ecebdc"/>
<line x1="925.3" y1="603.1" x2="953.8" y2="603.1" stroke="#7f7d63" stroke-width="1.2"/>
<line x1="925.3" y1="630.5" x2="953.8" y2="630.5" stroke="#7f7d63" stroke-width="1.1"/>
<rect x="925.8" y="631.2" width="27.5" height="4.3" fill="#c9c7ae"/>
<polygon points="966.2,580.6 970.2,576.1 998.7,576.1 994.7,580.6" fill="#cfcdb4" stroke="#9c9a80" stroke-width="0.7"/>
<polygon points="994.7,580.6 998.7,576.1 998.7,631.5 994.7,636.0" fill="#7b795b" stroke="#6e6c50" stroke-width="0.6"/>
<rect x="966.2" y="580.6" width="28.5" height="55.4" fill="#bdbba0" stroke="#8f8d72" stroke-width="0.8"/>
<rect x="968.2" y="585.6" width="13" height="8" fill="#d6d5c0" stroke="#a9a78e" stroke-width="0.6"/>
<rect x="969.7" y="588.1" width="10" height="3" fill="#ecebdc"/>
<line x1="966.2" y1="603.1" x2="994.7" y2="603.1" stroke="#7f7d63" stroke-width="1.2"/>
<line x1="966.2" y1="630.5" x2="994.7" y2="630.5" stroke="#7f7d63" stroke-width="1.1"/>
<rect x="966.7" y="631.2" width="27.5" height="4.3" fill="#c9c7ae"/>
<polygon points="1014,580.6 1018,576.1 1046.5,576.1 1042.5,580.6" fill="#cfcdb4" stroke="#9c9a80" stroke-width="0.7"/>
<polygon points="1042.5,580.6 1046.5,576.1 1046.5,631.5 1042.5,636.0" fill="#7b795b" stroke="#6e6c50" stroke-width="0.6"/>
<rect x="1014" y="580.6" width="28.5" height="55.4" fill="#bdbba0" stroke="#8f8d72" stroke-width="0.8"/>
<rect x="1016" y="585.6" width="13" height="8" fill="#d6d5c0" stroke="#a9a78e" stroke-width="0.6"/>
<rect x="1017.5" y="588.1" width="10" height="3" fill="#ecebdc"/>
<line x1="1014" y1="603.1" x2="1042.5" y2="603.1" stroke="#7f7d63" stroke-width="1.2"/>
<line x1="1014" y1="630.5" x2="1042.5" y2="630.5" stroke="#7f7d63" stroke-width="1.1"/>
<rect x="1014.5" y="631.2" width="27.5" height="4.3" fill="#c9c7ae"/>
<polygon points="1061.4,580.6 1065.4,576.1 1093.9,576.1 1089.9,580.6" fill="#cfcdb4" stroke="#9c9a80" stroke-width="0.7"/>
<polygon points="1089.9,580.6 1093.9,576.1 1093.9,631.5 1089.9,636.0" fill="#7b795b" stroke="#6e6c50" stroke-width="0.6"/>
<rect x="1061.4" y="580.6" width="28.5" height="55.4" fill="#bdbba0" stroke="#8f8d72" stroke-width="0.8"/>
<rect x="1063.4" y="585.6" width="13" height="8" fill="#d6d5c0" stroke="#a9a78e" stroke-width="0.6"/>
<rect x="1064.9" y="588.1" width="10" height="3" fill="#ecebdc"/>
<line x1="1061.4" y1="603.1" x2="1089.9" y2="603.1" stroke="#7f7d63" stroke-width="1.2"/>
<line x1="1061.4" y1="630.5" x2="1089.9" y2="630.5" stroke="#7f7d63" stroke-width="1.1"/>
<rect x="1061.9" y="631.2" width="27.5" height="4.3" fill="#c9c7ae"/>
<g>
<ellipse cx="827.1" cy="333.6" rx="17.1" ry="15.8" fill="#e3d7ac"/>
<ellipse cx="844.2" cy="318.4" rx="18.2" ry="13.2" fill="#e3d7ac"/>
<ellipse cx="863.6" cy="313.1" rx="16.0" ry="12.5" fill="#e3d7ac"/>
<ellipse cx="881.8" cy="315.8" rx="17.1" ry="13.2" fill="#e3d7ac"/>
<ellipse cx="897.8" cy="325.0" rx="14.8" ry="12.5" fill="#e3d7ac"/>
<ellipse cx="909.2" cy="334.9" rx="14.8" ry="11.2" fill="#e3d7ac"/>
<ellipse cx="888.7" cy="348.8" rx="18.2" ry="13.9" fill="#e3d7ac"/>
<ellipse cx="864.7" cy="352.7" rx="20.5" ry="13.9" fill="#e3d7ac"/>
<ellipse cx="841.9" cy="348.1" rx="19.4" ry="14.5" fill="#e3d7ac"/>
<ellipse cx="864.7" cy="333.6" rx="38.8" ry="21.1" fill="#e3d7ac"/>
<g filter="url(#blur3)">
<ellipse cx="826.1" cy="332.1" rx="13.7" ry="12.4" fill="#f9f1d4"/>
<ellipse cx="843.2" cy="316.9" rx="14.6" ry="10.3" fill="#f9f1d4"/>
<ellipse cx="862.6" cy="311.6" rx="12.8" ry="9.8" fill="#f9f1d4"/>
<ellipse cx="880.8" cy="314.3" rx="13.7" ry="10.3" fill="#f9f1d4"/>
<ellipse cx="896.8" cy="323.5" rx="11.9" ry="9.8" fill="#f9f1d4"/>
<ellipse cx="908.2" cy="333.4" rx="11.9" ry="8.8" fill="#f9f1d4"/>
<ellipse cx="887.7" cy="347.3" rx="14.6" ry="10.8" fill="#f9f1d4"/>
<ellipse cx="863.7" cy="351.2" rx="16.4" ry="10.8" fill="#f9f1d4"/>
<ellipse cx="840.9" cy="346.6" rx="15.5" ry="11.3" fill="#f9f1d4"/>
<ellipse cx="863.7" cy="332.1" rx="31.0" ry="16.5" fill="#f9f1d4"/>
</g></g>
<text x="832.4" y="338.2" font-family="Liberation Sans" font-size="26" fill="#141428" textLength="65.30000000000007" lengthAdjust="spacingAndGlyphs">SAN A</text>
<g>
<ellipse cx="1085.2" cy="331.4" rx="16.5" ry="16.3" fill="#e3d7ac"/>
<ellipse cx="1101.8" cy="315.8" rx="17.6" ry="13.6" fill="#e3d7ac"/>
<ellipse cx="1120.5" cy="310.4" rx="15.4" ry="12.9" fill="#e3d7ac"/>
<ellipse cx="1138.2" cy="313.1" rx="16.5" ry="13.6" fill="#e3d7ac"/>
<ellipse cx="1153.6" cy="322.6" rx="14.3" ry="12.9" fill="#e3d7ac"/>
<ellipse cx="1164.7" cy="332.8" rx="14.3" ry="11.5" fill="#e3d7ac"/>
<ellipse cx="1144.8" cy="347.0" rx="17.6" ry="14.2" fill="#e3d7ac"/>
<ellipse cx="1121.6" cy="351.1" rx="19.9" ry="14.2" fill="#e3d7ac"/>
<ellipse cx="1099.6" cy="346.3" rx="18.8" ry="14.9" fill="#e3d7ac"/>
<ellipse cx="1121.6" cy="331.4" rx="37.5" ry="21.7" fill="#e3d7ac"/>
<g filter="url(#blur3)">
<ellipse cx="1084.2" cy="329.9" rx="13.2" ry="12.7" fill="#f9f1d4"/>
<ellipse cx="1100.8" cy="314.3" rx="14.1" ry="10.6" fill="#f9f1d4"/>
<ellipse cx="1119.5" cy="308.9" rx="12.4" ry="10.0" fill="#f9f1d4"/>
<ellipse cx="1137.2" cy="311.6" rx="13.2" ry="10.6" fill="#f9f1d4"/>
<ellipse cx="1152.6" cy="321.1" rx="11.5" ry="10.0" fill="#f9f1d4"/>
<ellipse cx="1163.7" cy="331.3" rx="11.5" ry="9.0" fill="#f9f1d4"/>
<ellipse cx="1143.8" cy="345.5" rx="14.1" ry="11.1" fill="#f9f1d4"/>
<ellipse cx="1120.6" cy="349.6" rx="15.9" ry="11.1" fill="#f9f1d4"/>
<ellipse cx="1098.6" cy="344.8" rx="15.0" ry="11.6" fill="#f9f1d4"/>
<ellipse cx="1120.6" cy="329.9" rx="30.0" ry="16.9" fill="#f9f1d4"/>
</g></g>
<text x="1078" y="338.9" font-family="Liberation Sans" font-size="26" fill="#141428" textLength="66.59999999999991" lengthAdjust="spacingAndGlyphs">SAN B</text>
</svg></body></html>
